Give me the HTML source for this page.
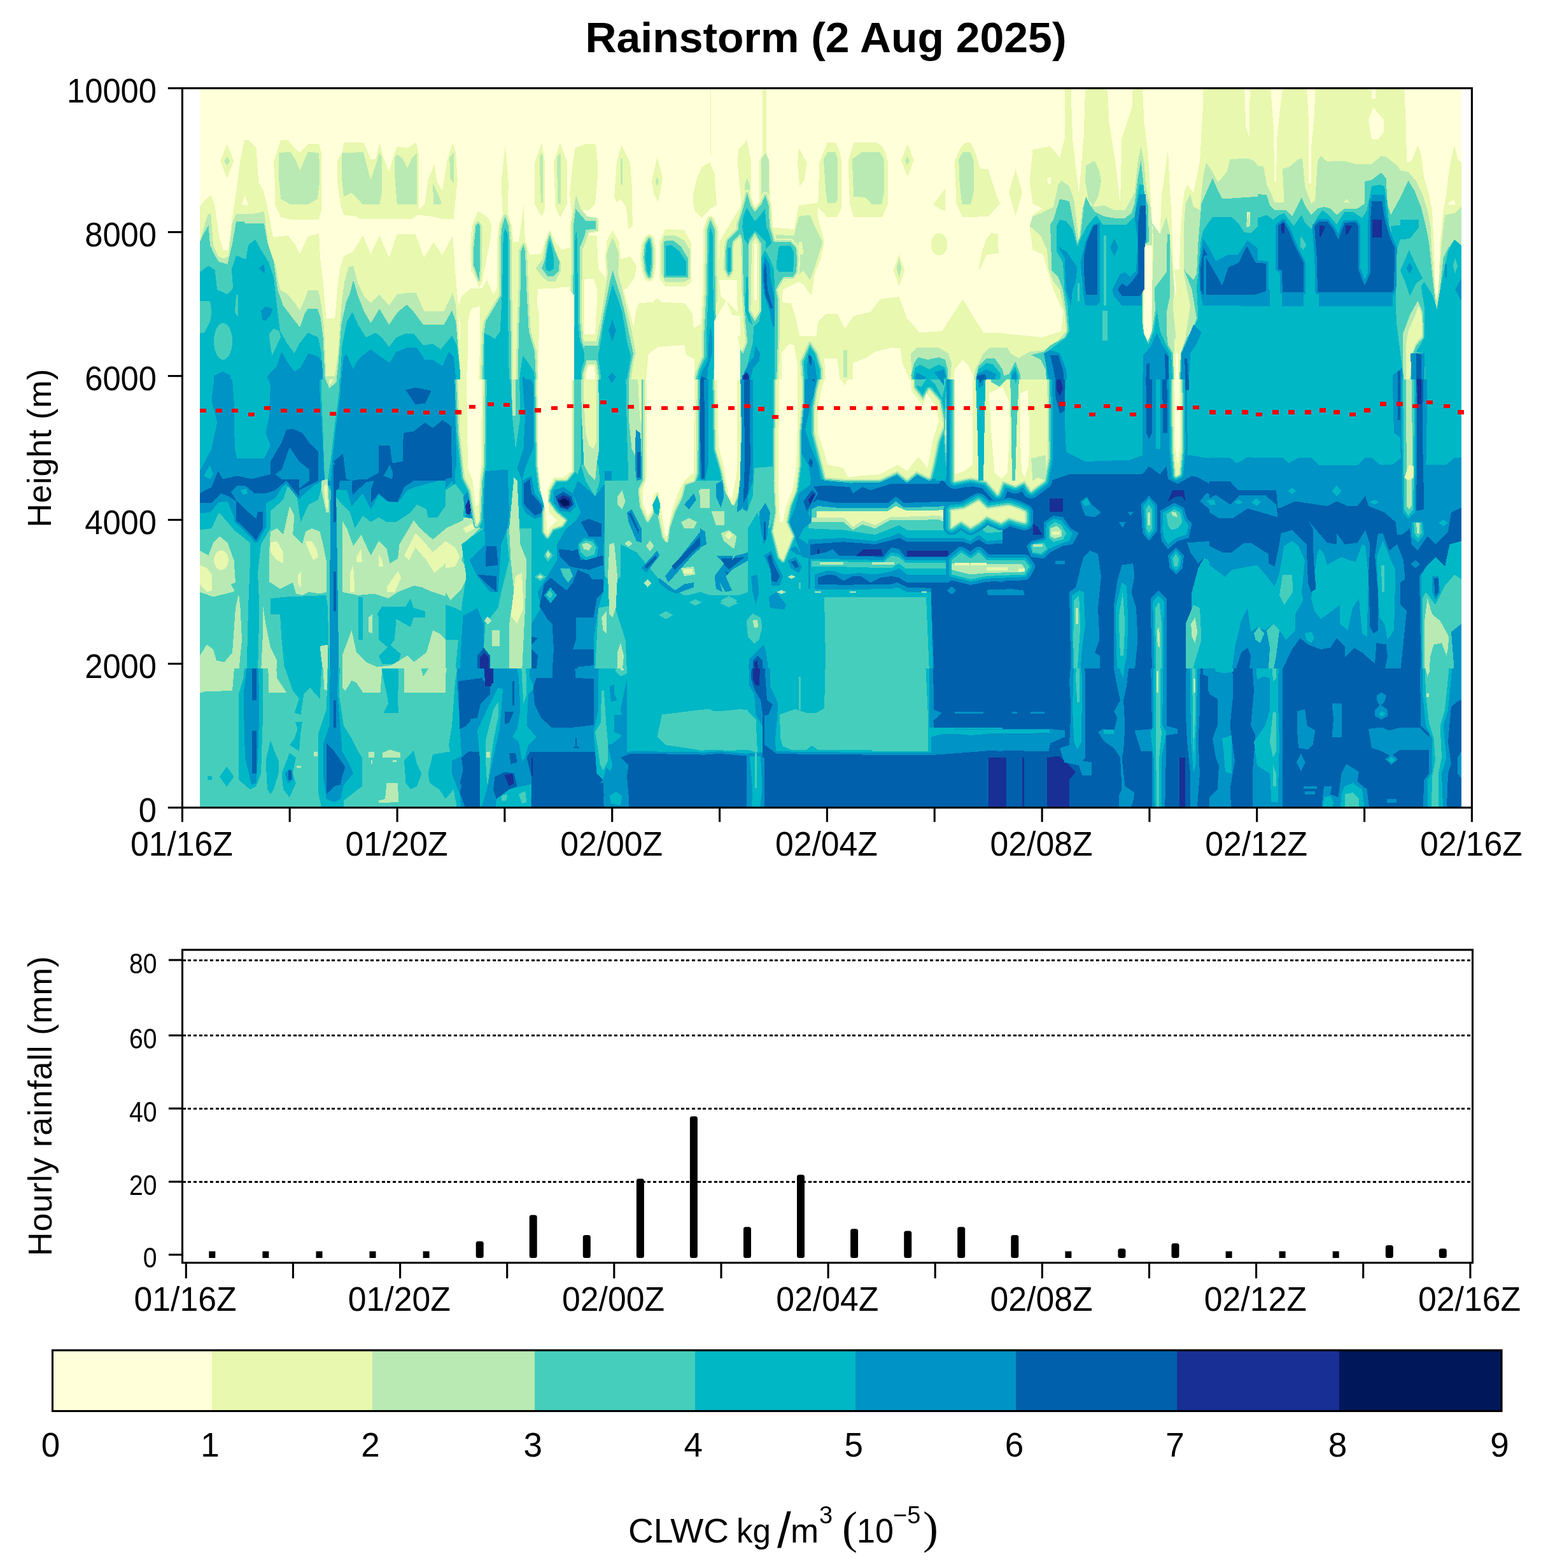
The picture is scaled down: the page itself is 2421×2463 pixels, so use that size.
<!DOCTYPE html>
<html lang="en"><head><meta charset="utf-8"><title>Rainstorm (2 Aug 2025)</title>
<style>html,body{margin:0;padding:0;background:#fff}svg{display:block}</style></head>
<body>
<svg width="2421" height="2463" viewBox="0 0 2421 2463" font-family="'Liberation Sans', sans-serif" fill="#000">
<rect width="2421" height="2463" fill="#fff"/>
<text x="1297.5" y="82" font-size="66" font-weight="bold" text-anchor="middle" textLength="756" lengthAdjust="spacingAndGlyphs">Rainstorm (2 Aug 2025)</text>
<clipPath id="hc"><rect x="314" y="138.6" width="1982" height="1130"/></clipPath>
<g clip-path="url(#hc)">
<g shape-rendering="crispEdges">
<rect x="314.0" y="138.6" width="1982.0" height="1130.0" fill="#FFFFD9"/>
<rect x="314.0" y="138.0" width="1982.0" height="1130.0" fill="#FFFFD9"/>
<polygon fill="#E8F8AF" points="346.2,253.0 356.8,226.0 367.2,253.0 356.8,280.0"/>
<polygon fill="#B9EAB3" points="352.5,253.0 356.8,245.5 361.0,253.0 356.8,260.5"/>
<polygon fill="#E8F8AF" points="430.0,253.8 436.2,235.0 441.2,220.0 452.5,220.0 462.5,232.5 471.2,240.0 483.8,226.2 501.2,226.2 505.0,240.0 505.0,330.0 501.2,344.5 455.0,344.5 441.2,341.2 432.5,322.5 431.8,285.0"/>
<polygon fill="#B9EAB3" points="437.5,240.0 456.2,238.8 463.8,250.0 471.2,267.5 478.8,250.0 483.8,238.8 501.2,240.0 502.5,282.5 498.8,312.5 483.8,321.2 456.2,321.2 441.2,312.5 438.0,280.0"/>
<polygon fill="#E8F8AF" points="530.0,252.5 537.5,240.0 540.0,223.8 571.2,223.8 582.5,250.0 590.0,250.0 596.2,223.8 602.5,247.5 611.2,270.0 617.5,247.5 623.8,230.0 640.0,232.5 653.8,223.8 657.5,240.0 657.5,330.0 655.0,337.5 647.5,344.2 566.2,344.2 560.0,340.0 540.0,337.5 535.0,322.5 530.0,285.0"/>
<polygon fill="#B9EAB3" points="537.5,240.0 571.2,239.2 576.2,260.0 582.5,282.5 590.0,260.0 596.2,239.2 600.0,247.5 600.0,302.5 596.2,321.2 570.0,321.2 552.5,302.5 540.0,308.8 537.0,280.0"/>
<polygon fill="#B9EAB3" points="620.0,247.5 623.8,242.5 632.5,248.8 640.0,263.8 647.5,247.5 655.0,240.0 655.0,321.2 623.8,321.2 620.5,280.0"/>
<polygon fill="#E8F8AF" points="657.5,330.0 667.5,320.0 672.5,282.5 682.5,257.5 686.2,285.0 695.0,300.0 702.5,252.5 711.2,223.8 716.2,240.0 718.8,282.5 715.0,320.0 712.5,344.2 693.8,344.2 680.0,340.0 655.0,337.5"/>
<polygon fill="#B9EAB3" points="680.0,287.5 686.2,300.0 692.5,315.0 692.5,321.2 681.2,321.2"/>
<polygon fill="#B9EAB3" points="706.2,247.5 712.5,240.0 712.5,287.5 707.5,280.0"/>
<polygon fill="#E8F8AF" points="313.8,325.0 320.0,316.2 331.2,306.2 337.5,322.5 341.2,350.0 345.0,375.0 351.2,392.5 358.8,392.5 363.8,350.0 371.2,300.0 377.5,252.5 383.8,220.0 390.0,220.0 402.5,232.5 406.2,286.2 413.8,300.0 420.0,325.0 425.0,350.0 428.8,372.5 452.5,370.0 462.5,382.5 471.2,398.8 483.8,371.2 501.2,367.0 503.0,405.0 507.5,442.5 512.5,500.0 526.2,500.0 530.0,455.0 533.8,422.5 540.0,402.5 555.0,395.0 570.0,370.0 582.5,398.8 596.2,370.0 611.2,405.0 623.8,367.5 652.5,367.5 666.2,405.0 681.2,380.0 695.0,401.2 711.2,370.0 715.0,425.0 720.0,480.0 722.5,532.5 722.5,1270.0 313.8,1270.0"/>
<polygon fill="#FFFFD9" points="380.0,322.0 385.0,306.2 390.0,322.0"/>
<polygon fill="#B9EAB3" points="313.8,380.0 326.2,337.5 331.2,335.0 335.0,385.0 342.5,402.5 351.2,406.2 358.8,402.5 365.0,350.0 371.2,335.5 400.0,335.5 415.0,332.0 417.5,355.0 422.5,390.0 432.5,415.0 440.0,455.0 452.5,462.5 462.5,475.0 471.2,487.5 478.8,470.0 483.8,456.2 500.0,456.2 505.0,480.0 508.8,512.5 512.5,591.2 526.2,591.2 531.2,555.0 536.2,480.0 541.2,442.5 547.5,420.0 555.0,417.5 562.5,445.0 572.5,466.2 582.5,476.2 596.2,462.5 611.2,480.0 623.8,462.5 638.8,460.0 653.8,460.0 666.2,488.8 697.5,488.8 711.2,460.0 716.2,480.0 720.0,540.0 722.5,580.0 722.5,1270.0 313.8,1270.0"/>
<polygon fill="#46CEBC" points="313.8,380.0 321.2,365.0 327.5,353.8 330.0,385.0 337.5,401.2 343.8,411.2 357.5,415.0 365.0,382.5 371.2,347.5 383.8,347.5 385.0,351.2 415.0,351.2 420.0,380.0 430.0,410.0 436.2,455.0 445.0,480.0 460.0,500.0 471.2,513.8 478.8,492.5 483.8,485.0 498.8,485.0 503.8,500.0 507.5,530.0 511.2,606.0 527.5,606.0 531.2,575.0 536.2,510.0 543.8,475.0 550.0,460.0 555.0,440.0 562.5,465.0 572.5,490.0 582.5,507.5 596.2,485.0 611.2,510.0 625.0,490.0 638.8,478.8 650.0,490.0 665.0,510.0 697.5,510.0 710.0,487.5 716.2,505.0 722.5,580.0 722.5,1270.0 313.8,1270.0"/>
<polygon fill="#00B7C6" points="313.8,427.5 327.5,417.5 337.5,423.8 341.2,455.0 357.5,462.5 366.2,452.5 363.8,422.5 371.2,401.2 386.2,407.5 390.0,385.0 401.2,376.2 410.0,392.5 422.5,412.5 430.0,435.0 435.0,480.0 440.0,520.0 450.0,537.5 462.5,555.0 470.0,540.0 483.8,522.5 500.0,530.0 505.0,555.0 507.5,606.0 533.8,606.0 537.5,542.5 545.0,505.0 553.8,490.0 562.5,510.0 575.0,530.0 590.0,522.5 600.0,530.0 611.2,545.0 622.5,530.0 637.5,523.8 650.0,523.8 665.0,542.5 680.0,540.0 692.5,548.8 710.0,527.5 717.5,542.5 722.5,580.0 722.5,1270.0 313.8,1270.0"/>
<polygon fill="#46CEBC" points="313.8,472.5 330.0,472.5 332.5,490.0 330.0,505.0 321.2,522.5 313.8,522.5"/>
<ellipse cx="350.5" cy="536.2" rx="14.5" ry="28.8" fill="#46CEBC"/>
<polygon fill="#46CEBC" points="422.5,525.0 430.0,516.2 438.8,520.0 441.2,530.0 435.0,542.5 427.5,557.5 425.0,545.0"/>
<polygon fill="#46CEBC" points="371.2,462.5 373.8,462.5 373.8,497.5 368.8,490.0"/>
<polygon fill="#0093C5" points="420.0,591.2 435.0,575.0 442.5,552.5 452.5,570.0 462.5,583.8 472.5,577.5 483.8,555.0 500.0,560.0 506.2,570.0 507.5,606.0 535.0,606.0 540.0,560.0 550.0,550.0 557.5,572.5 567.5,560.0 582.5,548.8 597.5,560.0 612.5,570.0 622.5,552.5 640.0,546.2 655.0,546.2 667.5,565.0 680.0,565.0 695.0,575.0 705.0,552.5 712.5,560.0 717.5,606.0 717.5,1270.0 420.0,1270.0"/>
<polygon fill="#0093C5" points="336.2,590.0 350.0,583.8 361.2,588.8 365.0,606.0 336.2,606.0"/>
<polygon fill="#0093C5" points="406.2,421.2 415.0,415.0 416.2,430.0"/>
<polygon fill="#0093C5" points="410.0,488.8 417.5,481.2 428.8,485.0 425.0,495.0 417.5,503.8 412.5,502.5"/>
<polygon fill="#00B7C6" points="543.8,555.0 555.0,532.5 565.0,555.0 555.0,580.0"/>
<polygon fill="#E8F8AF" points="787.5,285.0 793.8,227.5 798.8,285.0 797.5,345.0 790.0,345.0"/>
<polygon fill="#E8F8AF" points="840.0,255.0 851.2,223.8 856.2,255.0 856.2,330.0 851.2,340.0 843.8,327.5 840.0,320.0"/>
<polygon fill="#B9EAB3" points="847.5,247.5 851.2,240.0 853.0,247.5 853.0,317.5 850.0,317.5"/>
<polygon fill="#E8F8AF" points="870.0,255.0 880.0,223.8 891.2,255.0 891.2,320.0 880.0,342.5 872.5,325.0"/>
<polygon fill="#B9EAB3" points="875.0,247.5 880.0,240.0 881.2,247.5 881.2,320.0 876.2,320.0"/>
<polygon fill="#E8F8AF" points="900.0,255.0 903.8,232.5 920.0,226.2 936.2,226.2 938.8,255.0 938.8,280.0 935.0,320.0 925.0,330.0 897.5,330.0 895.0,305.0"/>
<polygon fill="#E8F8AF" points="965.0,310.0 968.8,255.0 976.2,227.5 990.0,255.0 992.5,290.0 993.8,355.0 987.5,360.0 983.8,325.0 975.0,312.5 968.8,317.5"/>
<polygon fill="#B9EAB3" points="974.5,248.8 977.5,248.8 977.5,290.0 974.5,290.0"/>
<polygon fill="#E8F8AF" points="1023.8,285.0 1032.5,246.2 1041.2,280.0 1033.8,317.5 1027.5,305.0"/>
<polygon fill="#B9EAB3" points="1030.0,285.0 1032.5,277.5 1035.0,285.0 1032.5,292.5"/>
<polygon fill="#E8F8AF" points="1088.8,305.0 1095.0,280.0 1102.5,262.5 1115.0,255.0 1122.5,272.5 1125.0,305.0 1126.2,322.5 1116.2,327.5 1102.5,342.5 1092.5,332.5 1088.8,320.0"/>
<polygon fill="#E8F8AF" points="1115.5,140.0 1117.0,140.0 1117.0,242.5 1115.5,242.5"/>
<polygon fill="#E8F8AF" points="738.8,392.5 741.2,355.0 751.2,331.5 767.5,342.5 772.5,355.0 770.0,380.0 762.5,417.5 757.5,442.5 752.5,452.8 748.8,440.0 740.0,425.0"/>
<polygon fill="#E8F8AF" points="719.0,485.0 725.0,465.0 737.5,455.0 740.0,452.5 757.5,452.5 765.0,440.0 775.0,462.5 782.5,450.0 786.5,417.5 786.5,530.0 757.5,535.0 753.8,532.5 753.5,481.2 740.0,485.0 735.0,505.0 735.0,555.0 732.5,606.0 722.5,606.0 722.5,505.0"/>
<polygon fill="#E8F8AF" points="800.0,355.0 805.0,380.0 815.0,380.0 822.5,322.5 825.0,380.0 832.5,400.0 850.0,398.8 860.0,367.5 863.8,361.2 872.5,380.0 882.5,392.5 890.0,390.0 900.0,387.5 900.0,450.0 880.0,452.5 845.0,453.8 843.8,480.0 850.0,505.0 857.5,520.0 860.0,555.0 850.0,580.0 850.0,606.0 800.0,606.0"/>
<polygon fill="#E8F8AF" points="870.0,490.0 880.0,480.0 887.5,490.0 890.0,520.0 892.5,542.5 892.5,606.0 872.5,606.0 870.0,555.0"/>
<polygon fill="#E8F8AF" points="912.5,387.5 920.0,370.0 937.5,370.0 940.0,422.5 952.5,437.5 952.5,380.0 962.5,361.2 972.5,380.0 975.0,407.5 990.0,402.5 1000.0,417.5 997.5,435.0 985.0,452.5 980.0,455.0 1000.0,530.0 1000.0,606.0 912.5,606.0"/>
<polygon fill="#FFFFD9" points="917.5,438.8 932.5,437.5 937.5,452.5 937.5,480.0 935.0,525.0 917.5,525.0"/>
<polygon fill="#FFFFD9" points="917.5,575.0 935.0,575.0 935.0,606.0 917.5,606.0"/>
<polygon fill="#E8F8AF" points="1000.0,485.0 1003.8,476.2 1025.0,475.0 1032.5,468.8 1040.0,475.0 1075.0,476.2 1082.5,485.0 1087.5,492.5 1090.0,515.0 1100.0,510.0 1107.5,505.0 1107.5,542.5 1075.0,542.5 1060.0,542.5 1052.5,547.5 1030.0,547.5 1020.0,555.0 1020.0,606.0 990.0,606.0 992.5,530.0"/>
<polygon fill="#E8F8AF" points="1076.2,542.5 1107.5,542.5 1107.5,606.0 1075.0,606.0"/>
<polygon fill="#E8F8AF" points="1045.0,360.0 1075.0,361.2 1086.2,382.5 1086.2,442.5 1077.5,450.0 1045.0,450.0 1036.2,437.5 1036.2,380.0"/>
<polygon fill="#E8F8AF" stroke="#E8F8AF" stroke-width="11.0" stroke-linejoin="round" points="793.8,340.0 798.8,355.0 800.8,380.0 801.2,455.0 802.5,520.0 802.5,606.0 757.5,606.0 760.0,525.0 763.0,505.0 775.0,485.0 786.5,465.0 786.5,380.0 788.8,355.0"/>
<polygon fill="#E8F8AF" stroke="#E8F8AF" stroke-width="11.0" stroke-linejoin="round" points="822.5,385.0 825.0,395.0 827.5,457.5 830.8,520.5 840.0,552.5 842.5,606.0 813.5,606.0 815.0,520.5 817.5,457.5 818.0,395.0"/>
<polygon fill="#E8F8AF" stroke="#E8F8AF" stroke-width="11.0" stroke-linejoin="round" points="904.5,328.2 920.5,347.2 935.5,347.2 935.5,360.0 920.5,360.8 919.0,369.2 911.2,388.2 911.2,505.0 913.8,535.0 920.5,555.0 920.5,570.0 915.0,587.5 915.0,606.0 892.5,606.0 895.0,587.5 891.5,565.0 892.5,552.5 897.5,520.0 900.0,455.0 901.5,388.2 900.8,355.0"/>
<polygon fill="#E8F8AF" stroke="#E8F8AF" stroke-width="5.0" stroke-linejoin="round" points="962.5,372.5 968.8,387.5 972.5,400.0 971.2,430.0 977.5,455.0 985.0,487.5 992.5,520.0 998.8,555.0 995.0,570.0 990.0,606.0 940.0,606.0 935.0,570.0 932.5,555.0 940.0,520.0 946.2,487.5 951.2,455.0 955.0,430.0 953.0,400.0 956.2,387.5"/>
<polygon fill="#E8F8AF" stroke="#E8F8AF" stroke-width="16.0" stroke-linejoin="round" points="1020.0,376.2 1023.0,392.5 1022.5,417.5 1020.0,433.8 1016.2,425.0 1013.8,405.0 1015.5,385.0"/>
<polygon fill="#E8F8AF" stroke="#E8F8AF" stroke-width="12.0" stroke-linejoin="round" points="1116.2,345.0 1122.5,360.0 1123.8,455.0 1125.0,520.0 1126.2,555.0 1125.0,580.0 1122.5,606.0 1090.0,606.0 1097.5,580.0 1106.2,560.0 1106.2,525.0 1110.0,455.0 1111.2,360.0"/>
<polygon fill="#B9EAB3" stroke="#B9EAB3" stroke-width="5.0" stroke-linejoin="round" points="744.0,392.5 747.5,355.0 751.2,350.0 754.2,355.0 754.2,417.5 752.5,440.2 748.8,430.0 744.5,417.5"/>
<polygon fill="#B9EAB3" stroke="#B9EAB3" stroke-width="6.0" stroke-linejoin="round" points="793.8,340.0 798.8,355.0 800.8,380.0 801.2,455.0 802.5,520.0 802.5,606.0 757.5,606.0 760.0,525.0 763.0,505.0 775.0,485.0 786.5,465.0 786.5,380.0 788.8,355.0"/>
<polygon fill="#B9EAB3" stroke="#B9EAB3" stroke-width="6.0" stroke-linejoin="round" points="822.5,385.0 825.0,395.0 827.5,457.5 830.8,520.5 840.0,552.5 842.5,606.0 813.5,606.0 815.0,520.5 817.5,457.5 818.0,395.0"/>
<polygon fill="#B9EAB3" points="863.8,364.5 872.5,392.5 881.2,412.5 881.2,425.0 872.5,441.8 860.0,441.8 850.0,432.5 841.8,421.2 852.5,407.5 857.5,380.0"/>
<polygon fill="#B9EAB3" points="905.0,306.2 912.5,327.5 922.5,340.0 937.5,342.5 938.8,362.5 925.0,365.0 920.0,380.0 915.0,392.5 913.8,505.0 901.2,505.0 898.8,392.5 897.5,355.0"/>
<polygon fill="#B9EAB3" stroke="#B9EAB3" stroke-width="6.0" stroke-linejoin="round" points="904.5,328.2 920.5,347.2 935.5,347.2 935.5,360.0 920.5,360.8 919.0,369.2 911.2,388.2 911.2,505.0 913.8,535.0 920.5,555.0 920.5,570.0 915.0,587.5 915.0,606.0 892.5,606.0 895.0,587.5 891.5,565.0 892.5,552.5 897.5,520.0 900.0,455.0 901.5,388.2 900.8,355.0"/>
<polygon fill="#B9EAB3" stroke="#B9EAB3" stroke-width="12.5" stroke-linejoin="round" points="917.5,542.5 941.2,542.5 941.2,566.2 917.5,566.2"/>
<polygon fill="#B9EAB3" points="962.5,372.5 968.8,387.5 972.5,400.0 971.2,430.0 977.5,455.0 985.0,487.5 992.5,520.0 998.8,555.0 995.0,570.0 990.0,606.0 940.0,606.0 935.0,570.0 932.5,555.0 940.0,520.0 946.2,487.5 951.2,455.0 955.0,430.0 953.0,400.0 956.2,387.5"/>
<polygon fill="#B9EAB3" stroke="#B9EAB3" stroke-width="10.0" stroke-linejoin="round" points="1020.0,376.2 1023.0,392.5 1022.5,417.5 1020.0,433.8 1016.2,425.0 1013.8,405.0 1015.5,385.0"/>
<polygon fill="#B9EAB3" points="1043.8,370.5 1060.0,369.5 1075.0,377.5 1083.8,392.5 1083.8,437.5 1076.2,442.5 1045.0,442.5 1038.8,430.0 1038.8,385.0"/>
<polygon fill="#B9EAB3" stroke="#B9EAB3" stroke-width="6.0" stroke-linejoin="round" points="1116.2,345.0 1122.5,360.0 1123.8,455.0 1125.0,520.0 1126.2,555.0 1125.0,580.0 1122.5,606.0 1090.0,606.0 1097.5,580.0 1106.2,560.0 1106.2,525.0 1110.0,455.0 1111.2,360.0"/>
<polygon fill="#46CEBC" points="744.0,392.5 747.5,355.0 751.2,350.0 754.2,355.0 754.2,417.5 752.5,440.2 748.8,430.0 744.5,417.5"/>
<polygon fill="#46CEBC" points="793.8,340.0 798.8,355.0 800.8,380.0 801.2,455.0 802.5,520.0 802.5,606.0 757.5,606.0 760.0,525.0 763.0,505.0 775.0,485.0 786.5,465.0 786.5,380.0 788.8,355.0"/>
<polygon fill="#46CEBC" points="822.5,385.0 825.0,395.0 827.5,457.5 830.8,520.5 840.0,552.5 842.5,606.0 813.5,606.0 815.0,520.5 817.5,457.5 818.0,395.0"/>
<polygon fill="#46CEBC" points="863.8,369.2 871.2,392.5 878.8,411.2 878.0,425.0 870.0,433.8 860.0,433.8 851.2,421.2 856.2,407.5 860.0,380.0"/>
<polygon fill="#46CEBC" points="904.5,328.2 920.5,347.2 935.5,347.2 935.5,360.0 920.5,360.8 919.0,369.2 911.2,388.2 911.2,505.0 913.8,535.0 920.5,555.0 920.5,570.0 915.0,587.5 915.0,606.0 892.5,606.0 895.0,587.5 891.5,565.0 892.5,552.5 897.5,520.0 900.0,455.0 901.5,388.2 900.8,355.0"/>
<polygon fill="#46CEBC" points="917.5,542.5 941.2,542.5 941.2,566.2 917.5,566.2"/>
<polygon fill="#46CEBC" points="962.5,424.5 968.8,445.0 975.0,465.0 981.2,489.0 987.5,520.0 995.0,555.0 991.2,575.0 986.2,606.0 943.0,606.0 938.8,575.0 936.2,560.0 943.8,520.0 948.8,489.0 953.8,465.0 958.8,440.0"/>
<polygon fill="#46CEBC" stroke="#46CEBC" stroke-width="5.0" stroke-linejoin="round" points="1020.0,376.2 1023.0,392.5 1022.5,417.5 1020.0,433.8 1016.2,425.0 1013.8,405.0 1015.5,385.0"/>
<polygon fill="#46CEBC" points="1043.0,378.8 1057.5,377.5 1070.0,387.5 1080.5,405.0 1080.5,435.5 1043.0,435.5"/>
<polygon fill="#46CEBC" points="1116.2,345.0 1122.5,360.0 1123.8,455.0 1125.0,520.0 1126.2,555.0 1125.0,580.0 1122.5,606.0 1090.0,606.0 1097.5,580.0 1106.2,560.0 1106.2,525.0 1110.0,455.0 1111.2,360.0"/>
<polygon fill="#00B7C6" points="793.8,358.2 797.5,367.5 797.5,455.0 798.5,520.0 800.0,606.0 760.8,606.0 760.8,523.8 770.0,527.5 777.5,532.5 782.5,525.0 785.8,520.5 789.0,457.5 790.5,380.0 791.2,367.5"/>
<polygon fill="#00B7C6" points="821.2,558.2 830.0,570.0 838.8,583.8 841.2,606.0 815.0,606.0 817.5,583.8"/>
<polygon fill="#00B7C6" points="863.8,377.2 868.0,392.5 870.5,410.0 869.5,422.5 863.8,426.0 858.8,425.0 856.8,418.0 860.0,392.5"/>
<polygon fill="#00B7C6" points="905.2,360.8 907.2,380.0 908.0,505.0 911.2,536.2 917.5,552.5 917.5,567.5 912.5,583.8 912.5,606.0 897.5,606.0 900.0,583.8 895.2,567.5 895.2,552.5 900.0,536.2 903.2,505.0 903.2,380.0"/>
<polygon fill="#00B7C6" points="962.5,446.5 970.0,467.5 977.2,489.0 981.2,512.5 985.0,536.2 991.2,560.0 987.5,580.0 983.5,606.0 945.8,606.0 942.5,580.0 939.5,560.0 943.8,536.2 947.5,512.5 952.0,489.0 957.5,465.0"/>
<polygon fill="#00B7C6" points="1020.0,376.2 1023.0,392.5 1022.5,417.5 1020.0,433.8 1016.2,425.0 1013.8,405.0 1015.5,385.0"/>
<polygon fill="#00B7C6" points="1045.5,386.2 1055.0,385.0 1067.5,395.0 1077.5,410.0 1077.5,433.2 1045.5,433.2"/>
<polygon fill="#00B7C6" points="1116.2,355.0 1119.5,367.5 1120.5,455.0 1122.5,520.0 1123.0,555.0 1120.0,606.0 1093.8,606.0 1100.0,580.0 1110.0,560.0 1110.0,525.0 1113.0,455.0 1113.8,367.5"/>
<polygon fill="#0093C5" points="821.2,591.2 831.2,600.0 833.8,606.0 820.0,606.0"/>
<polygon fill="#0093C5" points="956.0,519.0 962.0,502.0 968.0,519.0 962.0,536.0"/>
<polygon fill="#0093C5" points="955.2,592.5 961.5,585.0 967.8,592.5 961.5,600.0"/>
<polygon fill="#0093C5" points="1116.2,512.5 1118.8,530.0 1118.8,555.0 1112.5,577.5 1110.0,606.0 1096.2,606.0 1102.5,585.0 1112.5,565.0 1113.8,530.0"/>
<polygon fill="#0060AC" points="1102.5,591.2 1110.0,595.0 1112.5,606.0 1097.5,606.0"/>
<polygon fill="#E8F8AF" points="1198.2,140.0 1203.8,140.0 1203.8,325.0 1198.2,325.0"/>
<polygon fill="#E8F8AF" points="1160.0,235.0 1173.8,220.0 1180.0,255.0 1180.0,305.0 1172.5,320.0 1165.0,325.0 1158.8,255.0"/>
<polygon fill="#B9EAB3" points="1170.0,290.0 1173.8,280.0 1177.5,290.0 1177.5,320.0 1170.0,320.0"/>
<polygon fill="#E8F8AF" points="1192.5,255.0 1201.2,232.5 1208.8,255.0 1210.0,325.0 1192.5,325.0"/>
<polygon fill="#B9EAB3" points="1196.2,250.0 1202.5,240.0 1207.5,250.0 1207.5,320.0 1196.2,320.0"/>
<polygon fill="#E8F8AF" points="1255.0,232.5 1267.5,255.0 1263.8,282.5 1256.2,292.5 1253.0,255.0"/>
<polygon fill="#E8F8AF" points="1287.5,255.0 1297.5,230.0 1300.0,223.8 1312.5,223.8 1320.0,240.0 1322.0,255.0 1322.0,327.5 1315.0,341.2 1300.0,341.2 1285.0,325.0"/>
<polygon fill="#B9EAB3" points="1293.8,250.0 1300.0,239.2 1312.5,239.2 1316.2,250.0 1315.5,315.0 1312.5,318.8 1300.0,318.8 1297.5,302.5"/>
<polygon fill="#E8F8AF" points="1332.5,252.5 1341.2,223.8 1376.2,223.8 1386.2,230.0 1391.2,240.0 1395.0,255.0 1395.0,320.0 1386.2,341.2 1341.2,341.2 1335.0,320.0"/>
<polygon fill="#B9EAB3" points="1338.8,250.0 1353.8,239.2 1382.5,239.2 1388.8,250.0 1388.8,302.5 1385.0,321.2 1370.0,321.2 1360.0,310.0 1341.2,308.8"/>
<polygon fill="#E8F8AF" points="1415.8,252.0 1425.8,226.2 1435.8,252.0 1425.8,277.8"/>
<polygon fill="#B9EAB3" points="1421.5,252.5 1425.0,245.5 1428.5,252.5 1425.0,259.5"/>
<polygon fill="#E8F8AF" points="1500.0,252.5 1510.0,230.0 1517.5,223.8 1525.0,223.8 1532.5,240.0 1540.0,265.0 1552.5,266.2 1565.0,305.0 1571.2,320.0 1552.5,340.0 1512.5,341.2 1502.5,320.0"/>
<polygon fill="#B9EAB3" points="1506.2,250.0 1512.5,239.2 1525.0,239.2 1530.0,255.0 1529.5,302.5 1525.0,321.2 1511.2,321.2 1507.5,285.0"/>
<polygon fill="#E8F8AF" points="1466.2,321.2 1485.0,296.2 1485.0,331.2 1475.0,327.5"/>
<ellipse cx="1475.5" cy="383.8" rx="13.0" ry="17.5" fill="#E8F8AF"/>
<polygon fill="#E8F8AF" points="1550.0,375.0 1557.5,366.2 1567.5,367.5 1568.8,397.5 1550.0,400.0 1540.0,422.5 1537.5,422.5 1543.8,392.5"/>
<polygon fill="#E8F8AF" points="1403.5,424.5 1412.5,399.5 1421.5,424.5 1412.5,449.5"/>
<polygon fill="#B9EAB3" points="1408.5,421.2 1412.5,406.2 1416.5,421.2 1412.5,436.2"/>
<polygon fill="#E8F8AF" points="1130.0,380.0 1145.0,355.0 1160.0,330.0 1210.0,325.0 1212.5,357.5 1247.5,360.0 1255.0,322.5 1285.0,318.8 1285.0,342.5 1295.0,380.0 1290.0,405.0 1280.0,430.0 1275.0,465.0 1262.5,447.5 1255.0,442.5 1230.0,455.0 1225.0,505.0 1127.5,505.0"/>
<polygon fill="#FFFFD9" points="1130.0,440.0 1157.5,440.0 1158.8,490.0 1132.5,465.0"/>
<polygon fill="#B9EAB3" points="1212.5,368.8 1247.5,370.0 1255.0,340.0 1272.5,337.5 1280.0,355.0 1292.5,380.0 1285.0,405.0 1280.0,420.0 1272.5,440.0 1262.5,425.0 1250.0,435.0 1225.0,445.0 1212.5,445.0"/>
<polygon fill="#E8F8AF" points="1255.0,380.0 1260.0,380.0 1262.5,400.0 1256.2,400.0"/>
<polygon fill="#E8F8AF" points="1125.0,475.0 1142.5,477.5 1150.0,492.5 1162.5,495.0 1225.0,455.0 1230.0,475.0 1242.5,476.2 1250.0,497.5 1256.2,527.5 1282.5,527.5 1285.0,505.0 1297.5,492.5 1315.0,492.5 1327.5,516.2 1341.2,496.2 1367.5,490.0 1382.5,470.0 1412.5,466.2 1425.0,500.0 1445.0,522.5 1480.0,520.0 1512.5,470.0 1545.0,522.5 1576.0,522.5 1576.0,1270.0 1125.0,1270.0"/>
<polygon fill="#FFFFD9" points="1150.0,495.0 1162.5,496.2 1162.5,527.5 1150.0,527.5"/>
<polygon fill="#FFFFD9" points="1130.0,555.0 1137.5,542.5 1147.5,542.5 1152.5,570.0 1160.0,606.0 1130.0,606.0"/>
<polygon fill="#FFFFD9" points="1227.5,555.0 1240.0,540.0 1247.5,542.5 1252.5,570.0 1252.5,606.0 1227.5,606.0"/>
<polygon fill="#FFFFD9" points="1295.0,562.5 1315.0,562.5 1317.5,580.0 1320.0,606.0 1297.5,606.0"/>
<polygon fill="#FFFFD9" points="1340.0,570.0 1360.0,562.5 1375.0,552.5 1400.0,546.2 1415.0,547.5 1417.5,570.0 1427.5,592.5 1430.0,606.0 1340.0,606.0"/>
<polygon fill="#FFFFD9" points="1500.0,580.0 1512.5,565.0 1520.0,572.5 1530.0,592.5 1530.0,606.0 1497.5,606.0"/>
<polygon fill="#B9EAB3" points="1325.0,550.0 1331.2,550.0 1331.2,592.5 1325.0,592.5"/>
<polygon fill="#E8F8AF" stroke="#E8F8AF" stroke-width="9.9" stroke-linejoin="round" points="1173.6,303.2 1179.4,323.0 1186.0,332.9 1195.9,321.4 1202.5,306.5 1207.5,323.0 1209.1,356.1 1214.1,372.6 1215.7,380.0 1242.1,380.0 1250.4,389.1 1252.1,405.6 1251.2,427.1 1245.4,435.4 1230.6,435.4 1222.3,448.6 1219.0,455.2 1222.3,471.7 1222.3,521.3 1219.8,610.0 1159.6,610.0 1161.2,570.8 1174.4,537.8 1171.1,504.7 1167.8,455.2 1167.0,389.1 1166.2,375.9 1162.9,367.6 1151.3,379.2 1149.6,389.1 1149.6,425.4 1144.7,433.7 1139.7,422.1 1140.6,389.1 1143.0,377.5 1159.6,361.0 1159.6,352.8 1166.2,331.3 1169.5,319.7"/>
<polygon fill="#E8F8AF" stroke="#E8F8AF" stroke-width="12.0" stroke-linejoin="round" points="1272.5,540.0 1282.5,555.0 1290.0,580.0 1290.0,606.0 1262.5,606.0 1260.0,567.5"/>
<polygon fill="#B9EAB3" stroke="#B9EAB3" stroke-width="5.3" stroke-linejoin="round" points="1173.6,303.2 1179.4,323.0 1186.0,332.9 1195.9,321.4 1202.5,306.5 1207.5,323.0 1209.1,356.1 1214.1,372.6 1215.7,380.0 1242.1,380.0 1250.4,389.1 1252.1,405.6 1251.2,427.1 1245.4,435.4 1230.6,435.4 1222.3,448.6 1219.0,455.2 1222.3,471.7 1222.3,521.3 1219.8,610.0 1159.6,610.0 1161.2,570.8 1174.4,537.8 1171.1,504.7 1167.8,455.2 1167.0,389.1 1166.2,375.9 1162.9,367.6 1151.3,379.2 1149.6,389.1 1149.6,425.4 1144.7,433.7 1139.7,422.1 1140.6,389.1 1143.0,377.5 1159.6,361.0 1159.6,352.8 1166.2,331.3 1169.5,319.7"/>
<polygon fill="#B9EAB3" stroke="#B9EAB3" stroke-width="6.0" stroke-linejoin="round" points="1272.5,540.0 1282.5,555.0 1290.0,580.0 1290.0,606.0 1262.5,606.0 1260.0,567.5"/>
<polygon fill="#B9EAB3" points="1431.2,555.0 1440.0,546.2 1475.0,546.2 1490.0,555.0 1495.0,570.0 1492.5,606.0 1432.5,606.0"/>
<polygon fill="#46CEBC" points="1173.6,303.2 1179.4,323.0 1186.0,332.9 1195.9,321.4 1202.5,306.5 1207.5,323.0 1209.1,356.1 1214.1,372.6 1215.7,380.0 1242.1,380.0 1250.4,389.1 1252.1,405.6 1251.2,427.1 1245.4,435.4 1230.6,435.4 1222.3,448.6 1219.0,455.2 1222.3,471.7 1222.3,521.3 1219.8,610.0 1159.6,610.0 1161.2,570.8 1174.4,537.8 1171.1,504.7 1167.8,455.2 1167.0,389.1 1166.2,375.9 1162.9,367.6 1151.3,379.2 1149.6,389.1 1149.6,425.4 1144.7,433.7 1139.7,422.1 1140.6,389.1 1143.0,377.5 1159.6,361.0 1159.6,352.8 1166.2,331.3 1169.5,319.7"/>
<polygon fill="#46CEBC" points="1151.3,557.6 1159.6,541.1 1169.5,560.9 1176.1,557.6 1176.1,570.8 1166.2,570.8 1159.6,557.6 1154.6,562.5"/>
<polygon fill="#46CEBC" points="1272.5,540.0 1282.5,555.0 1290.0,580.0 1290.0,606.0 1262.5,606.0 1260.0,567.5"/>
<polygon fill="#46CEBC" points="1436.2,570.0 1442.5,561.2 1457.5,565.0 1475.0,561.2 1485.0,565.0 1488.8,580.0 1490.0,606.0 1435.0,606.0 1431.2,590.0"/>
<polygon fill="#00B7C6" points="1173.6,326.3 1181.0,339.6 1186.0,347.8 1195.9,336.3 1201.7,328.0 1204.2,356.1 1209.1,369.3 1212.4,382.5 1202.5,392.4 1202.5,379.2 1195.9,372.6 1186.0,362.7 1176.1,375.9 1176.1,385.8 1169.5,375.9 1166.2,356.1 1167.8,339.6"/>
<polygon fill="#00B7C6" points="1201.7,392.4 1209.1,405.6 1215.7,422.1 1217.4,455.2 1217.4,521.3 1217.4,610.0 1166.2,610.0 1172.8,579.1 1182.7,537.8 1184.3,513.0 1192.6,504.7 1195.9,488.2 1192.6,455.2 1192.6,422.1 1195.9,405.6"/>
<polygon fill="#00B7C6" points="1171.9,435.4 1175.2,435.4 1176.1,488.2 1182.7,511.3 1176.1,504.7 1171.1,488.2"/>
<polygon fill="#00B7C6" points="1224.0,386.6 1242.1,385.8 1247.1,395.7 1246.3,427.1 1224.0,427.1 1219.8,422.1 1220.7,405.6"/>
<polygon fill="#00B7C6" points="1143.0,389.1 1148.0,389.1 1148.0,427.1 1143.0,427.1"/>
<polygon fill="#00B7C6" points="1272.5,545.0 1280.0,555.0 1287.5,580.0 1287.5,606.0 1265.0,606.0 1262.5,570.0"/>
<polygon fill="#00B7C6" points="1437.5,577.5 1445.0,572.5 1460.0,580.0 1475.0,572.5 1485.0,577.5 1487.5,592.5 1485.0,606.0 1437.5,606.0 1435.0,592.5"/>
<polygon fill="#0093C5" points="1201.7,402.3 1209.1,415.5 1210.8,438.7 1217.4,471.7 1217.4,513.0 1214.1,513.0 1209.1,488.2 1200.8,463.4 1197.5,438.7 1197.5,422.1"/>
<polygon fill="#0093C5" points="1186.8,542.7 1194.2,554.3 1192.6,567.5 1182.7,579.1 1176.1,610.0 1166.2,610.0 1169.5,584.0 1176.1,570.8 1184.3,560.9"/>
<polygon fill="#0093C5" points="1271.2,555.0 1280.0,570.0 1285.0,606.0 1270.0,606.0 1267.5,575.0"/>
<polygon fill="#0093C5" points="1440.0,585.0 1455.0,592.5 1447.5,600.0 1437.5,595.0"/>
<polygon fill="#0093C5" points="1467.5,585.0 1482.5,580.0 1486.2,592.5 1477.5,597.5"/>
<polygon fill="#0060AC" points="1200.8,412.2 1204.2,422.1 1205.8,455.2 1214.1,483.3 1210.8,484.9 1202.5,463.4 1200.0,438.7"/>
<polygon fill="#0060AC" stroke="#0060AC" stroke-width="2.6" stroke-linejoin="round" points="1172.8,585.7 1176.1,590.6 1176.1,610.0 1166.2,610.0 1167.8,590.6"/>
<polygon fill="#0060AC" points="1270.0,557.5 1275.0,560.0 1275.0,575.0 1271.2,570.0"/>
<polygon fill="#183096" points="1172.8,585.7 1176.1,590.6 1176.1,610.0 1166.2,610.0 1167.8,590.6"/>
<polygon fill="#B9EAB3" points="1186.0,366.0 1195.9,382.5 1195.9,488.2 1186.0,504.7 1176.1,488.2 1176.1,382.5"/>
<polygon fill="#E8F8AF" points="1181.0,382.5 1186.8,372.6 1193.4,384.2 1193.4,486.6 1186.0,499.8 1179.4,486.6"/>
<polygon fill="#FFFFD9" points="1185.2,382.5 1188.5,382.5 1188.5,471.7 1185.2,471.7"/>
<polygon fill="#E8F8AF" points="1585.0,302.5 1595.5,266.2 1606.0,302.5 1595.5,338.8"/>
<polygon fill="#E8F8AF" points="1576.0,523.8 1637.5,530.0 1660.0,522.5 1667.5,520.0 1670.0,490.0 1655.0,455.0 1645.0,422.5 1638.8,400.0 1622.5,392.5 1617.5,355.0 1622.5,337.5 1637.5,327.5 1622.5,320.0 1617.5,285.0 1622.5,235.0 1650.0,230.0 1665.0,247.5 1672.5,217.5 1672.5,140.0 1682.5,140.0 1685.0,217.5 1695.0,305.0 1702.5,217.5 1705.0,140.0 1740.0,140.0 1742.5,192.5 1752.5,255.0 1760.0,320.0 1762.5,217.5 1778.8,167.5 1778.8,140.0 1795.0,140.0 1797.5,192.5 1803.8,242.5 1807.5,305.0 1810.0,355.0 1812.5,380.0 1822.5,367.5 1825.0,305.0 1827.5,290.0 1835.0,235.0 1837.5,290.0 1840.0,330.0 1845.0,455.0 1850.0,472.5 1852.5,430.0 1855.0,355.0 1860.0,305.0 1865.0,290.0 1875.0,302.5 1885.0,255.0 1890.0,165.0 1890.0,140.0 1955.0,140.0 1957.5,200.0 1962.5,215.0 1963.8,140.0 1976.0,140.0 1976.0,1270.0 1576.0,1270.0"/>
<polygon fill="#FFFFD9" points="1645.0,280.0 1651.2,277.5 1651.2,290.0 1646.2,287.5"/>
<polygon fill="#FFFFD9" points="1796.2,386.2 1810.0,386.2 1810.0,455.0 1808.8,525.0 1802.5,535.0 1797.5,520.0"/>
<polygon fill="#FFFFD9" points="1846.2,552.5 1851.2,552.5 1851.2,606.0 1846.2,606.0"/>
<polygon fill="#FFFFD9" points="1874.5,345.0 1878.8,345.0 1878.8,367.5 1874.5,367.5"/>
<polygon fill="#B9EAB3" points="1706.2,260.0 1720.0,252.5 1727.5,270.0 1730.0,285.0 1725.0,310.0 1717.5,322.5 1710.0,315.0 1705.0,285.0"/>
<polygon fill="#B9EAB3" points="1927.5,270.0 1932.5,250.0 1960.0,248.8 1970.0,252.5 1976.0,260.0 1976.0,312.5 1932.5,312.5 1925.0,305.0 1915.0,285.0"/>
<polygon fill="#B9EAB3" points="1617.5,355.0 1622.5,340.0 1635.0,335.0 1655.0,325.0 1662.5,290.0 1667.5,283.8 1680.0,292.5 1687.5,315.0 1695.0,380.0 1700.0,327.5 1706.2,308.8 1712.5,320.0 1720.0,325.0 1735.0,322.5 1750.0,330.0 1767.5,330.0 1782.5,302.5 1787.5,255.0 1792.5,230.0 1797.5,255.0 1800.0,292.5 1807.5,325.0 1810.0,350.0 1810.0,385.0 1796.2,385.0 1795.0,606.0 1640.0,606.0 1635.0,570.0 1612.5,560.0 1617.5,552.5 1640.0,550.0 1662.5,535.0 1675.0,520.0 1672.5,490.0 1665.0,455.0 1655.0,442.5 1647.5,422.5 1645.0,392.5 1635.0,370.0"/>
<polygon fill="#B9EAB3" points="1810.0,350.0 1822.5,367.5 1832.5,340.0 1837.5,365.0 1845.0,455.0 1842.5,480.0 1847.5,530.0 1845.0,555.0 1810.0,555.0 1810.0,455.0 1812.5,380.0"/>
<polygon fill="#B9EAB3" points="1860.0,355.0 1862.5,320.0 1870.0,305.0 1875.0,325.0 1885.0,330.0 1890.0,280.0 1895.0,255.0 1905.0,270.0 1912.5,285.0 1976.0,280.0 1976.0,606.0 1852.5,606.0 1855.0,555.0 1862.5,530.0 1870.0,480.0 1860.0,430.0"/>
<polygon fill="#B9EAB3" points="1545.0,555.0 1555.0,546.2 1582.5,546.2 1587.5,555.0 1600.0,562.5 1617.5,552.5 1635.0,570.0 1640.0,606.0 1527.5,606.0 1532.5,580.0"/>
<polygon fill="#46CEBC" points="1650.0,352.5 1655.0,345.0 1665.0,312.5 1680.0,316.2 1687.5,355.0 1692.5,382.5 1697.5,370.0 1702.5,325.0 1706.2,308.8 1712.5,322.5 1720.0,332.5 1735.0,340.0 1750.0,342.5 1767.5,342.5 1777.5,335.0 1782.5,320.0 1787.5,280.0 1792.5,252.5 1796.2,285.0 1797.5,305.0 1803.8,322.5 1805.0,380.0 1796.2,385.0 1795.0,505.0 1797.5,525.0 1803.8,537.5 1803.8,606.0 1645.0,606.0 1642.5,580.0 1635.0,565.0 1620.0,557.5 1640.0,552.5 1650.0,542.5 1672.5,530.0 1677.5,520.0 1675.0,490.0 1670.0,455.0 1662.5,435.0 1652.5,425.0"/>
<polygon fill="#46CEBC" points="1813.8,452.5 1832.5,427.5 1833.8,367.5 1837.5,367.5 1837.5,467.5 1832.5,492.5 1832.5,520.0 1835.0,542.5 1810.0,542.5 1812.5,520.0 1815.0,490.0"/>
<polygon fill="#46CEBC" stroke="#46CEBC" stroke-width="5.0" stroke-linejoin="round" points="1817.5,487.5 1822.5,520.0 1832.5,542.5 1840.0,555.0 1842.5,606.0 1795.0,606.0 1795.0,560.0 1805.0,540.0 1812.5,520.0"/>
<polygon fill="#46CEBC" points="1882.5,380.0 1887.5,320.0 1895.0,302.5 1905.0,280.0 1915.0,302.5 1920.0,312.5 1976.0,308.8 1976.0,606.0 1852.5,606.0 1855.0,555.0 1865.0,530.0 1875.0,515.0 1880.0,500.0 1872.5,455.0 1860.0,422.5 1865.0,430.0 1875.0,440.0 1880.0,430.0"/>
<polygon fill="#46CEBC" points="1537.5,575.0 1550.0,562.5 1562.5,562.5 1575.0,580.0 1577.5,590.0 1585.0,587.5 1595.0,567.5 1602.5,587.5 1605.0,606.0 1530.0,606.0"/>
<polygon fill="#00B7C6" points="1660.0,355.0 1665.0,345.0 1675.0,347.5 1685.0,360.0 1692.5,387.5 1700.0,370.0 1707.5,355.0 1722.5,337.5 1732.5,352.5 1770.0,352.5 1782.5,340.0 1785.0,320.0 1790.0,290.0 1796.2,290.0 1800.0,320.0 1801.2,380.0 1795.0,385.0 1793.8,505.0 1796.2,522.5 1803.8,540.0 1803.8,606.0 1645.0,606.0 1642.5,555.0 1655.0,545.0 1675.0,530.0 1680.0,520.0 1677.5,480.0 1672.5,455.0 1670.0,412.5 1660.0,395.0"/>
<polygon fill="#00B7C6" points="1817.5,487.5 1822.5,520.0 1832.5,542.5 1840.0,555.0 1842.5,606.0 1795.0,606.0 1795.0,560.0 1805.0,540.0 1812.5,520.0"/>
<polygon fill="#00B7C6" points="1890.0,362.5 1900.0,347.5 1905.0,341.2 1935.0,341.2 1945.0,350.0 1955.0,365.0 1965.0,366.2 1976.0,355.0 1976.0,606.0 1855.0,606.0 1857.5,555.0 1870.0,525.0 1882.5,500.0 1880.0,450.0 1882.5,430.0 1886.2,380.0"/>
<polygon fill="#00B7C6" points="1537.5,580.0 1550.0,570.0 1560.0,572.5 1572.5,587.5 1570.0,606.0 1532.5,606.0"/>
<polygon fill="#00B7C6" points="1587.5,587.5 1595.0,575.0 1600.0,590.0 1600.0,606.0 1587.5,606.0"/>
<polygon fill="#0093C5" points="1662.5,387.5 1675.0,395.0 1692.5,420.0 1690.0,442.5 1685.0,455.0 1682.5,480.0 1675.0,455.0 1672.5,405.0"/>
<polygon fill="#0093C5" points="1697.5,412.5 1705.0,380.0 1717.5,352.5 1727.5,350.0 1727.5,475.0 1722.5,480.0 1705.0,480.0 1702.5,465.0"/>
<polygon fill="#0093C5" points="1782.5,340.0 1790.0,305.0 1800.0,305.0 1801.2,380.0 1795.0,385.0 1793.8,480.0 1762.5,480.0 1750.0,465.0 1747.5,455.0 1760.0,430.0 1767.5,427.5 1775.0,435.0 1785.0,425.0 1787.5,380.0"/>
<polygon fill="#0093C5" points="1744.2,388.8 1750.5,375.0 1756.8,388.8 1750.5,402.5"/>
<polygon fill="#0093C5" points="1640.0,555.0 1650.0,550.0 1665.0,555.0 1675.0,580.0 1677.5,606.0 1650.0,606.0"/>
<polygon fill="#0093C5" points="1817.5,522.5 1825.0,540.0 1835.0,555.0 1837.5,606.0 1795.0,606.0 1796.2,557.5 1807.5,545.0"/>
<polygon fill="#0093C5" points="1890.0,375.0 1900.0,390.0 1910.0,410.0 1930.0,400.0 1945.0,400.0 1960.0,377.5 1976.0,390.0 1976.0,480.0 1890.0,480.0 1885.0,455.0 1883.8,420.0"/>
<polygon fill="#0093C5" points="1875.0,510.0 1887.5,522.5 1880.0,540.0 1870.0,555.0 1867.5,606.0 1855.0,606.0 1856.2,555.0 1865.0,535.0"/>
<polygon fill="#0093C5" points="1535.0,587.5 1550.0,580.0 1565.0,587.5 1562.5,597.5 1550.0,606.0 1532.5,606.0"/>
<polygon fill="#0093C5" points="1590.0,590.0 1595.0,582.5 1597.5,592.5 1596.2,606.0 1591.2,606.0"/>
<polygon fill="#0060AC" points="1702.5,405.0 1707.5,380.0 1717.5,355.0 1723.8,352.5 1723.8,462.5 1706.2,462.5 1703.8,442.5"/>
<polygon fill="#0060AC" points="1787.5,355.0 1791.2,322.5 1800.0,322.5 1798.8,452.5 1791.2,465.0 1762.5,465.0 1756.2,455.0 1762.5,445.0 1770.0,450.0 1780.0,440.0 1787.5,430.0"/>
<polygon fill="#0060AC" points="1650.0,557.5 1662.5,557.5 1670.0,580.0 1672.5,606.0 1660.0,606.0 1655.0,580.0"/>
<polygon fill="#0060AC" points="1801.2,572.5 1806.2,570.0 1806.2,606.0 1800.0,606.0"/>
<polygon fill="#0060AC" points="1830.0,555.0 1836.2,560.0 1836.2,606.0 1831.2,606.0"/>
<polygon fill="#0060AC" points="1891.2,388.8 1900.0,407.5 1910.0,430.0 1920.0,450.0 1930.0,422.5 1947.5,412.5 1960.0,385.0 1970.0,405.0 1976.0,412.5 1976.0,462.5 1890.0,462.5 1886.2,455.0 1886.2,420.0"/>
<polygon fill="#0060AC" points="1861.2,562.5 1865.0,562.5 1867.5,606.0 1862.5,606.0"/>
<polygon fill="#0060AC" points="1535.0,590.0 1547.5,587.5 1550.0,595.0 1542.5,606.0 1535.0,606.0"/>
<polygon fill="#46CEBC" points="1733.8,370.0 1737.5,370.0 1737.5,480.0 1733.8,480.0"/>
<polygon fill="#46CEBC" points="1732.0,487.5 1739.5,487.5 1739.5,535.0 1732.0,535.0"/>
<polygon fill="#46CEBC" points="1693.0,445.0 1696.0,445.0 1696.0,472.5 1693.0,472.5"/>
<polygon fill="#FFFFD9" points="1797.5,387.5 1808.8,387.5 1808.8,520.0 1803.8,532.5 1798.8,520.0"/>
<polygon fill="#E8F8AF" points="1845.0,422.5 1852.5,422.5 1852.5,472.5 1848.8,472.5"/>
<polygon fill="#E8F8AF" points="1845.0,530.0 1852.5,542.5 1852.5,606.0 1845.0,606.0"/>
<polygon fill="#FFFFD9" points="1847.0,555.0 1850.5,555.0 1850.5,606.0 1847.0,606.0"/>
<polygon fill="#E8F8AF" points="1958.8,332.5 1963.8,332.5 1963.8,355.0 1958.8,355.0"/>
<polygon fill="#E8F8AF" points="1976.0,140.0 2295.8,140.0 2295.8,606.0 1976.0,606.0"/>
<polygon fill="#FFFFD9" points="1996.2,140.0 2015.0,140.0 2010.0,180.0 2006.2,217.5 2005.0,285.0 2002.0,285.0 2001.2,205.0"/>
<polygon fill="#FFFFD9" points="2053.0,140.0 2066.2,140.0 2065.0,180.0 2060.0,230.0 2060.0,287.5 2056.2,287.5 2056.2,192.5"/>
<polygon fill="#FFFFD9" points="2155.0,140.0 2161.2,140.0 2161.2,155.0 2155.0,155.0"/>
<polygon fill="#FFFFD9" points="2150.0,187.5 2157.5,168.8 2173.8,187.5 2173.8,207.5 2165.0,218.8 2155.0,218.8 2152.5,205.0"/>
<polygon fill="#FFFFD9" points="2206.2,140.0 2295.8,140.0 2295.8,255.0 2290.0,250.0 2285.0,227.5 2280.0,247.5 2275.0,280.0 2272.5,305.0 2267.5,330.0 2262.5,380.0 2260.0,455.0 2257.5,467.5 2255.0,455.0 2252.5,380.0 2250.0,330.0 2245.0,305.0 2237.5,280.0 2232.5,242.5 2227.5,227.5 2220.0,247.5 2215.0,255.0 2210.0,255.0 2208.8,192.5"/>
<polygon fill="#FFFFD9" points="2272.5,321.2 2285.0,312.5 2286.2,322.5"/>
<polygon fill="#B9EAB3" points="1976.0,261.2 1985.0,261.2 1990.0,290.0 1997.5,305.0 2002.5,317.5 2017.5,317.5 2015.0,265.0 2025.0,262.5 2040.0,250.0 2046.2,248.8 2050.0,292.5 2060.0,320.0 2066.2,315.0 2070.0,252.5 2075.0,245.0 2085.0,253.8 2110.0,252.5 2130.0,257.5 2155.0,257.5 2170.0,245.0 2177.5,246.2 2195.0,260.0 2200.0,267.5 2212.5,270.0 2225.0,285.0 2235.0,305.0 2242.5,330.0 2247.5,355.0 2250.0,405.0 2255.0,467.5 2257.5,472.5 2260.0,455.0 2265.0,380.0 2270.0,337.5 2285.0,335.0 2295.8,325.0 2295.8,1270.0 1976.0,1270.0"/>
<polygon fill="#46CEBC" points="1976.0,305.0 1990.0,306.2 1995.0,322.5 2002.5,330.0 2020.0,330.0 2030.0,340.0 2037.5,325.0 2045.0,310.0 2050.0,322.5 2060.0,337.5 2070.0,327.5 2080.0,325.0 2090.0,327.5 2100.0,337.5 2112.5,327.5 2132.5,327.5 2143.8,320.0 2143.8,285.0 2155.0,282.5 2170.0,271.2 2177.5,280.0 2180.0,322.5 2185.0,337.5 2200.0,310.0 2212.5,283.8 2222.5,300.0 2232.5,325.0 2240.0,355.0 2245.0,380.0 2250.0,430.0 2255.0,475.0 2257.5,485.0 2262.5,455.0 2267.5,405.0 2275.0,390.0 2285.0,376.2 2295.8,385.0 2295.8,1270.0 1976.0,1270.0"/>
<polygon fill="#00B7C6" points="1976.0,342.5 1990.0,337.5 2000.0,345.0 2010.0,337.5 2017.5,335.0 2025.0,345.0 2032.5,355.0 2045.0,337.5 2050.0,350.0 2060.0,360.0 2070.0,340.0 2077.5,330.0 2087.5,337.5 2100.0,352.5 2112.5,332.5 2125.0,332.5 2140.0,342.5 2147.5,330.0 2155.0,292.5 2167.5,290.0 2175.0,292.5 2180.0,322.5 2182.5,355.0 2190.0,380.0 2192.5,455.0 2193.8,505.0 2200.0,555.0 2205.0,592.5 2207.5,606.0 2207.5,1270.0 1976.0,1270.0"/>
<polygon fill="#00B7C6" points="2295.8,386.2 2285.0,376.2 2275.0,395.0 2267.5,430.0 2262.5,455.0 2257.5,485.0 2250.0,462.5 2237.5,442.5 2232.5,450.0 2237.5,480.0 2237.5,530.0 2232.5,540.0 2225.0,552.5 2237.5,555.0 2240.0,607.5 2295.8,607.5"/>
<polygon fill="#00B7C6" points="2200.0,425.0 2213.8,392.5 2225.0,417.5 2235.0,437.5 2225.0,445.0 2215.0,465.0 2207.5,442.5"/>
<polygon fill="#00B7C6" points="2185.0,355.0 2200.0,353.8 2200.0,345.0 2228.8,345.0 2228.8,357.5 2215.0,375.0 2200.0,376.2 2195.0,390.0 2187.5,380.0"/>
<polygon fill="#B9EAB3" points="2203.8,525.0 2215.0,495.0 2227.5,472.5 2235.0,490.0 2236.2,530.0 2225.0,542.5 2220.0,555.0 2215.0,607.5 2205.0,607.5 2203.8,555.0"/>
<polygon fill="#E8F8AF" points="2212.5,520.0 2222.5,497.5 2228.8,480.0 2233.8,497.5 2233.8,527.5 2223.8,540.0 2218.8,555.0 2213.8,607.5 2208.8,607.5 2208.8,542.5"/>
<polygon fill="#0093C5" points="2216.2,555.0 2237.5,555.0 2238.8,607.5 2217.5,607.5"/>
<polygon fill="#0060AC" points="2225.0,555.0 2232.5,557.5 2233.8,607.5 2225.0,607.5"/>
<polygon fill="#183096" points="2226.2,595.0 2231.2,595.0 2231.2,607.5 2226.2,607.5"/>
<polygon fill="#0093C5" points="2187.5,590.0 2202.5,577.5 2203.8,607.5 2187.5,607.5"/>
<polygon fill="#0060AC" points="2196.2,582.5 2200.0,582.5 2200.0,607.5 2196.2,607.5"/>
<polygon fill="#0093C5" points="2209.5,421.2 2214.5,412.5 2219.5,421.2 2214.5,430.0"/>
<polygon fill="#0093C5" points="2270.0,415.0 2273.0,415.0 2273.0,436.2 2270.0,436.2"/>
<polygon fill="#0093C5" points="2286.2,455.0 2295.8,437.5 2295.8,472.5"/>
<polygon fill="#46CEBC" points="2282.8,417.5 2286.2,405.0 2289.8,417.5 2286.2,430.0"/>
<polygon fill="#0093C5" points="1950.0,455.0 1994.5,455.0 1994.5,481.2 1950.0,481.2"/>
<polygon fill="#0093C5" points="2013.8,455.0 2047.5,455.0 2047.5,481.2 2013.8,481.2"/>
<polygon fill="#0093C5" points="2072.0,455.0 2187.5,455.0 2187.5,481.2 2072.0,481.2"/>
<polygon fill="#0093C5" points="2151.2,355.0 2155.0,306.2 2175.0,306.2 2178.0,342.5 2181.2,355.0"/>
<polygon fill="#0093C5" stroke="#0093C5" stroke-width="8.0" stroke-linejoin="round" points="1895.0,405.0 1910.0,430.0 1920.0,448.8 1930.0,420.0 1946.2,412.5 1958.8,386.2 1972.5,412.5 1988.8,413.8 1988.8,457.5 1972.5,462.5 1895.0,462.5"/>
<polygon fill="#0093C5" stroke="#0093C5" stroke-width="7.0" stroke-linejoin="round" points="2007.5,355.0 2016.2,347.5 2025.0,362.5 2035.0,387.5 2047.5,412.5 2047.5,458.8 2015.0,458.8 2013.8,425.0 2007.5,422.5"/>
<polygon fill="#0093C5" stroke="#0093C5" stroke-width="7.0" stroke-linejoin="round" points="2065.0,355.0 2072.5,347.5 2085.0,347.5 2095.0,360.0 2102.5,376.2 2112.5,350.0 2130.0,348.8 2133.8,355.0 2133.8,422.5 2143.8,448.8 2152.5,430.0 2152.5,355.0 2155.0,316.2 2171.2,316.2 2175.0,342.5 2182.5,370.0 2191.2,390.0 2190.0,452.5 2187.5,458.8 2070.0,458.8 2068.8,405.0"/>
<polygon fill="#0060AC" points="1895.0,405.0 1910.0,430.0 1920.0,448.8 1930.0,420.0 1946.2,412.5 1958.8,386.2 1972.5,412.5 1988.8,413.8 1988.8,457.5 1972.5,462.5 1895.0,462.5"/>
<polygon fill="#0060AC" points="2007.5,355.0 2016.2,347.5 2025.0,362.5 2035.0,387.5 2047.5,412.5 2047.5,458.8 2015.0,458.8 2013.8,425.0 2007.5,422.5"/>
<polygon fill="#0060AC" points="2065.0,355.0 2072.5,347.5 2085.0,347.5 2095.0,360.0 2102.5,376.2 2112.5,350.0 2130.0,348.8 2133.8,355.0 2133.8,422.5 2143.8,448.8 2152.5,430.0 2152.5,355.0 2155.0,316.2 2171.2,316.2 2175.0,342.5 2182.5,370.0 2191.2,390.0 2190.0,452.5 2187.5,458.8 2070.0,458.8 2068.8,405.0"/>
<polygon fill="#183096" points="2012.5,352.5 2017.5,350.0 2017.5,366.2 2013.8,366.2"/>
<polygon fill="#183096" points="2072.5,353.8 2082.5,355.0 2075.0,372.5 2072.5,370.0"/>
<polygon fill="#183096" points="2113.8,353.8 2123.8,355.0 2117.5,367.5 2113.8,368.8"/>
<polygon fill="#183096" points="2155.5,344.5 2171.2,344.5 2171.2,372.5 2155.5,372.5"/>
<polygon fill="#46CEBC" points="2043.8,370.0 2052.5,385.0 2047.5,392.5 2042.5,387.5"/>
<polygon fill="#B9EAB3" points="1957.5,352.5 1962.5,332.5 1963.8,355.0 1958.8,357.5"/>
<polygon fill="#E8F8AF" points="2111.2,317.5 2116.2,312.5 2120.0,318.8"/>
<clipPath id="r2"><rect x="0" y="596" width="2421" height="800"/></clipPath><g clip-path="url(#r2)">
<polygon fill="#0093C5" points="313.8,550.0 715.0,550.0 715.0,1270.0 313.8,1270.0"/>
<polygon fill="#00B7C6" points="313.8,550.0 342.5,550.0 336.2,595.0 332.5,630.0 341.2,662.5 332.5,705.0 313.8,740.0"/>
<polygon fill="#00B7C6" points="365.0,595.0 420.0,590.0 425.0,605.0 422.5,655.0 417.5,680.0 425.0,700.0 415.0,720.0 372.5,720.0 368.8,705.0 367.5,630.0"/>
<polygon fill="#00B7C6" points="313.8,806.2 330.0,805.0 343.8,788.8 357.5,787.5 370.0,817.5 385.0,835.0 402.5,852.5 410.0,832.5 417.5,830.0 417.5,790.0 432.5,782.5 450.0,755.0 460.0,770.0 470.0,782.5 485.0,770.0 500.0,755.0 535.0,770.0 545.0,770.0 552.5,795.0 570.0,775.0 582.5,800.0 595.0,777.5 607.5,787.5 625.0,790.0 640.0,770.0 652.5,765.0 690.0,755.0 710.0,755.0 715.0,767.5 715.0,1270.0 313.8,1270.0"/>
<polygon fill="#46CEBC" points="313.8,832.5 332.5,830.0 343.8,805.0 357.5,820.0 367.5,832.5 392.5,852.5 392.5,892.5 405.0,900.0 410.0,855.0 425.0,830.0 425.0,802.5 445.0,785.0 455.0,755.0 465.0,770.0 472.5,820.0 485.0,792.5 500.0,785.0 507.5,755.0 537.5,792.5 550.0,805.0 557.5,830.0 570.0,810.0 582.5,820.0 595.0,812.5 607.5,820.0 622.5,820.0 645.0,805.0 655.0,792.5 670.0,800.0 672.5,812.5 687.5,812.5 710.0,780.0 715.0,770.0 715.0,1270.0 313.8,1270.0"/>
<polygon fill="#B9EAB3" points="313.8,865.0 327.5,872.5 335.0,852.5 345.0,842.5 357.5,852.5 367.5,880.0 370.0,915.0 362.5,917.5 370.0,930.0 370.0,942.5 313.8,942.5"/>
<polygon fill="#B9EAB3" points="422.5,875.0 425.0,835.0 435.0,830.0 445.0,840.0 455.0,795.0 462.5,810.0 460.0,840.0 475.0,855.0 480.0,835.0 490.0,830.0 502.5,835.0 507.5,855.0 512.5,880.0 512.5,942.5 422.5,942.5"/>
<polygon fill="#B9EAB3" points="537.5,817.5 545.0,830.0 555.0,857.5 567.5,840.0 582.5,872.5 595.0,850.0 607.5,862.5 612.5,885.0 625.0,877.5 627.5,855.0 650.0,817.5 660.0,830.0 680.0,847.5 712.5,820.0 725.0,815.0 725.0,942.5 537.5,942.5"/>
<ellipse cx="347.5" cy="880.0" rx="11.2" ry="15.5" fill="#E8F8AF"/>
<polygon fill="#E8F8AF" points="313.8,887.5 325.0,892.5 332.5,902.5 332.5,927.5 325.0,930.0 313.8,917.5"/>
<polygon fill="#E8F8AF" points="425.0,852.5 435.0,850.0 445.0,867.5 445.0,885.0 435.0,880.0 425.0,867.5"/>
<polygon fill="#E8F8AF" points="480.0,850.0 490.0,850.0 497.5,862.5 500.0,875.0 492.5,880.0 485.0,865.0"/>
<polygon fill="#E8F8AF" points="467.5,905.0 472.5,897.5 472.5,922.5 468.8,917.5"/>
<polygon fill="#E8F8AF" points="560.0,875.0 567.5,862.5 568.8,882.5 560.0,882.5"/>
<polygon fill="#E8F8AF" points="595.0,870.0 600.0,880.0 602.5,890.0 595.0,890.0"/>
<polygon fill="#E8F8AF" points="550.0,900.0 555.0,887.5 557.5,930.0 550.0,930.0"/>
<polygon fill="#E8F8AF" points="607.5,922.5 625.0,897.5 630.0,907.5 620.0,930.0 607.5,930.0"/>
<polygon fill="#E8F8AF" points="635.0,872.5 652.5,837.5 665.0,850.0 680.0,867.5 700.0,850.0 722.5,867.5 722.5,885.0 700.0,885.0 682.5,900.0 670.0,880.0 652.5,860.0 642.5,880.0"/>
<polygon fill="#46CEBC" points="313.8,930.0 335.0,937.5 365.0,930.0 375.0,925.0 425.0,915.0 440.0,925.0 460.0,915.0 465.0,932.5 475.0,935.0 485.0,930.0 502.5,932.5 512.5,930.0 537.5,930.0 562.5,935.0 587.5,932.5 610.0,940.0 625.0,930.0 650.0,920.0 662.5,922.5 680.0,930.0 710.0,940.0 725.0,925.0 725.0,1270.0 313.8,1270.0"/>
<polygon fill="#00B7C6" points="425.0,940.0 450.0,937.5 512.5,935.0 515.0,955.0 517.5,1056.0 447.5,1056.0 442.5,1005.0 440.0,965.0 425.0,965.0"/>
<polygon fill="#00B7C6" points="392.5,892.5 405.0,900.0 407.5,955.0 405.0,1056.0 387.5,1056.0 390.0,955.0"/>
<polygon fill="#00B7C6" points="592.5,965.0 600.0,952.5 637.5,952.5 645.0,940.0 650.0,955.0 667.5,960.0 667.5,970.0 650.0,970.0 645.0,985.0 622.5,972.5 620.0,1005.0 610.0,1017.5 595.0,1005.0 595.0,970.0"/>
<polygon fill="#00B7C6" points="595.0,1030.0 612.5,1012.5 630.0,1027.5 625.0,1042.5 600.0,1042.5"/>
<polygon fill="#00B7C6" points="562.5,937.5 570.0,937.5 570.0,1005.0 562.5,1005.0"/>
<polygon fill="#B9EAB3" points="313.8,1030.0 325.0,1012.5 335.0,1020.0 340.0,1037.5 352.5,1040.0 365.0,1025.0 370.0,955.0 375.0,932.5 377.5,955.0 380.0,1005.0 375.0,1056.0 313.8,1056.0"/>
<polygon fill="#B9EAB3" points="412.5,947.5 417.5,980.0 425.0,1017.5 435.0,1037.5 435.0,1056.0 410.0,1056.0 412.5,1005.0"/>
<polygon fill="#B9EAB3" points="502.5,1015.0 515.0,1012.5 515.0,1056.0 507.5,1056.0"/>
<polygon fill="#B9EAB3" points="537.5,1056.0 537.5,1030.0 552.5,990.0 560.0,1025.0 575.0,1040.0 592.5,1047.5 615.0,1045.0 640.0,1030.0 650.0,1040.0 670.0,1025.0 680.0,990.0 690.0,995.0 700.0,1005.0 710.0,962.5 712.5,980.0 715.0,1056.0"/>
<polygon fill="#B9EAB3" points="578.8,970.0 585.0,965.0 585.0,995.0 578.8,992.5"/>
<polygon fill="#0093C5" stroke="#0093C5" stroke-width="7.0" stroke-linejoin="round" points="313.8,775.0 332.5,765.0 342.5,740.0 350.0,752.5 372.5,747.5 395.0,752.5 425.0,745.0 425.0,725.0 442.5,695.0 450.0,675.0 460.0,673.8 475.0,680.0 487.5,697.5 500.0,710.0 500.0,755.0 485.0,762.5 470.0,770.0 470.0,780.0 450.0,755.0 432.5,770.0 417.5,775.0 400.0,775.0 385.0,762.5 372.5,762.5 362.5,772.5 372.5,787.5 385.0,800.0 402.5,815.0 405.0,803.8 412.5,803.8 412.5,830.0 402.5,848.8 385.0,830.0 371.2,817.5 371.2,787.5 360.0,780.0 347.5,775.0 332.5,790.0 313.8,790.0"/>
<polygon fill="#0060AC" points="313.8,775.0 332.5,765.0 342.5,740.0 350.0,752.5 372.5,747.5 395.0,752.5 425.0,745.0 425.0,725.0 442.5,695.0 450.0,675.0 460.0,673.8 475.0,680.0 487.5,697.5 500.0,710.0 500.0,755.0 485.0,762.5 470.0,770.0 470.0,780.0 450.0,755.0 432.5,770.0 417.5,775.0 400.0,775.0 385.0,762.5 372.5,762.5 362.5,772.5 372.5,787.5 385.0,800.0 402.5,815.0 405.0,803.8 412.5,803.8 412.5,830.0 402.5,848.8 385.0,830.0 371.2,817.5 371.2,787.5 360.0,780.0 347.5,775.0 332.5,790.0 313.8,790.0"/>
<polygon fill="#0060AC" points="523.8,725.0 538.8,712.5 543.8,752.5 552.5,755.0 567.5,752.5 577.5,752.5 595.0,742.5 595.0,700.0 612.5,700.0 616.2,727.5 632.5,725.0 633.8,680.0 650.0,677.5 667.5,663.8 680.0,672.5 695.0,660.0 708.8,670.0 710.0,755.0 690.0,755.0 650.0,755.0 635.0,765.0 625.0,787.5 610.0,787.5 595.0,775.0 582.5,790.0 582.5,770.0 587.5,755.0 575.0,757.5 553.8,777.5 552.5,755.0 533.8,755.0 532.5,767.5 527.5,770.0 523.8,755.0"/>
<polygon fill="#0060AC" points="637.5,612.5 652.5,608.8 677.5,613.8 667.5,633.8 652.5,635.0"/>
<polygon fill="#0093C5" points="455.0,702.5 470.0,725.0 486.2,737.5 486.2,755.0 470.0,767.5 470.0,752.5 442.5,752.5 432.5,745.0 442.5,737.5"/>
<polygon fill="#00B7C6" points="320.0,747.5 330.0,730.0 335.0,745.0 330.0,752.5"/>
<polygon fill="#00B7C6" points="377.5,770.0 387.5,767.5 388.8,775.0 382.5,777.5"/>
<polygon fill="#0093C5" points="602.5,747.5 612.5,730.0 617.5,742.5 616.2,752.5"/>
<polygon fill="#00B7C6" points="501.2,550.0 537.5,550.0 535.0,617.5 527.5,675.0 522.5,720.0 520.0,755.0 510.0,755.0 506.2,680.0 502.5,617.5"/>
<polygon fill="#46CEBC" points="505.0,550.0 535.0,550.0 532.5,617.5 525.0,675.0 520.0,720.0 515.0,755.0 510.0,755.0 507.5,680.0 505.0,617.5"/>
<polygon fill="#B9EAB3" points="508.8,550.0 531.2,550.0 528.8,600.0 517.5,610.0 511.2,595.0"/>
<polygon fill="#E8F8AF" points="511.2,550.0 528.8,550.0 526.2,595.0 517.5,605.0"/>
<polygon fill="#B9EAB3" points="505.0,755.0 515.0,752.5 517.5,805.0 512.5,805.0 505.0,770.0"/>
<polygon fill="#E8F8AF" points="508.8,765.0 513.8,760.0 515.0,800.0 512.0,795.0"/>
<polygon fill="#0093C5" points="523.8,725.0 527.5,730.0 532.5,1056.0 517.5,1056.0 518.8,830.0 520.0,755.0"/>
<polygon fill="#0060AC" points="523.8,730.0 527.5,730.0 527.5,820.0 523.8,820.0"/>
<polygon fill="#0060AC" points="523.8,897.5 527.5,897.5 527.5,960.0 523.8,960.0"/>
<polygon fill="#00B7C6" points="715.0,550.0 1176.0,550.0 1176.0,1056.0 715.0,1056.0"/>
<polygon fill="#46CEBC" points="700.0,830.0 835.0,830.0 835.0,1056.0 700.0,1056.0"/>
<polygon fill="#B9EAB3" points="700.0,830.0 715.0,820.0 725.0,812.5 750.0,815.0 753.8,830.0 732.5,850.0 725.0,880.0 737.5,900.0 725.0,925.0 707.5,942.5 700.0,930.0"/>
<polygon fill="#E8F8AF" points="700.0,850.0 715.0,860.0 722.5,875.0 715.0,890.0 700.0,892.5"/>
<polygon fill="#E8F8AF" points="727.5,830.0 750.0,817.5 750.0,827.5 732.5,837.5"/>
<polygon fill="#00B7C6" points="725.0,855.0 760.0,830.0 795.0,830.0 800.0,880.0 787.5,930.0 782.5,955.0 762.5,980.0 757.5,1056.0 715.0,1056.0 725.0,955.0 732.5,905.0"/>
<polygon fill="#0093C5" points="762.5,740.0 797.5,737.5 800.0,805.0 797.5,830.0 787.5,855.0 785.0,892.5 782.5,930.0 770.0,930.0 750.0,905.0 737.5,880.0 762.5,855.0 760.0,805.0"/>
<polygon fill="#0060AC" points="763.8,857.5 780.0,857.5 782.5,887.5 762.5,890.0"/>
<polygon fill="#0060AC" points="750.0,902.5 780.0,905.0 780.0,930.0 765.0,917.5"/>
<polygon fill="#0093C5" points="727.5,967.5 750.0,955.0 760.0,980.0 760.0,1056.0 722.5,1056.0 725.0,1005.0"/>
<polygon fill="#0060AC" points="750.0,1030.0 760.0,1017.5 770.0,1030.0 770.0,1056.0 750.0,1056.0"/>
<polygon fill="#183096" points="753.8,1032.5 761.2,1025.0 767.5,1032.5 767.5,1056.0 753.8,1056.0"/>
<polygon fill="#B9EAB3" points="800.0,830.0 807.5,750.0 812.5,755.0 817.5,855.0 827.5,880.0 825.0,955.0 820.0,1056.0 800.0,1056.0 800.0,980.0 807.5,930.0 802.5,880.0"/>
<polygon fill="#E8F8AF" points="810.0,905.0 820.0,900.0 822.5,955.0 812.5,980.0 802.5,967.5"/>
<polygon fill="#B9EAB3" points="772.5,990.0 785.0,990.0 785.0,1015.0 772.5,1015.0"/>
<polygon fill="#B9EAB3" points="760.0,975.0 766.2,968.8 772.5,975.0 766.2,981.2"/>
<polygon fill="#B9EAB3" points="703.8,960.0 712.5,960.0 712.5,992.5 703.8,992.5"/>
<polygon fill="#00B7C6" points="700.0,950.0 715.0,955.0 725.0,960.0 722.5,1005.0 700.0,1005.0"/>
<polygon fill="#0093C5" points="700.0,550.0 712.5,550.0 715.0,655.0 717.5,730.0 710.0,755.0 700.0,767.5"/>
<polygon fill="#0060AC" points="700.0,662.5 708.8,670.0 710.0,750.0 700.0,752.5"/>
<polygon fill="#46CEBC" points="700.0,770.0 715.0,760.0 730.0,780.0 727.5,817.5 700.0,830.0"/>
<polygon fill="#0093C5" points="727.5,780.0 737.5,770.0 745.0,792.5 742.5,815.0 732.5,812.5"/>
<polygon fill="#183096" points="731.2,795.0 736.2,783.8 741.2,797.5 737.5,808.8 732.5,806.2"/>
<polygon fill="#46CEBC" points="800.0,550.0 815.0,550.0 817.5,655.0 810.0,705.0 805.0,655.0"/>
<polygon fill="#B9EAB3" points="803.8,595.0 810.0,595.0 810.0,652.5 805.0,652.5"/>
<polygon fill="#0093C5" points="817.5,550.0 830.0,585.0 837.5,605.0 837.5,705.0 825.0,735.0 820.0,755.0 812.5,735.0 822.5,705.0 825.0,655.0"/>
<polygon fill="#0093C5" points="820.0,755.0 835.0,747.5 840.0,775.0 855.0,795.0 855.0,810.0 840.0,815.0 825.0,805.0 820.0,792.5"/>
<polygon fill="#0060AC" points="822.5,760.0 832.5,752.5 835.0,775.0 850.0,792.5 852.5,805.0 840.0,810.0 830.0,800.0 822.5,790.0"/>
<polygon fill="#0093C5" points="907.5,755.0 925.0,770.0 935.0,780.0 950.0,760.0 950.0,740.0 961.2,740.0 961.2,770.0 950.0,792.5 950.0,830.0 947.5,870.0 950.0,905.0 947.5,930.0 940.0,955.0 932.5,1005.0 932.5,1056.0 835.0,1056.0 835.0,980.0 850.0,955.0 845.0,930.0 860.0,905.0 875.0,880.0 875.0,855.0 890.0,830.0 905.0,817.5 912.5,805.0 900.0,775.0"/>
<polygon fill="#0060AC" points="912.5,820.0 925.0,815.0 945.0,822.5 945.0,842.5 925.0,842.5"/>
<polygon fill="#0060AC" points="877.5,862.5 900.0,865.0 907.5,862.5 912.5,880.0 947.5,872.5 947.5,887.5 925.0,895.0 907.5,892.5 895.0,890.0 880.0,875.0"/>
<polygon fill="#0060AC" points="855.0,917.5 865.0,907.5 890.0,927.5 900.0,915.0 907.5,895.0 925.0,902.5 930.0,910.0 947.5,910.0 947.5,930.0 937.5,940.0 932.5,970.0 905.0,970.0 905.0,1005.0 900.0,1020.0 932.5,1020.0 932.5,1045.0 907.5,1047.5 907.5,1056.0 867.5,1056.0 870.0,1020.0 867.5,980.0 860.0,972.5 847.5,952.5 852.5,930.0"/>
<polygon fill="#0060AC" points="835.0,1000.0 845.0,1002.5 835.0,1012.5"/>
<polygon fill="#0060AC" points="835.0,1020.0 845.0,1030.0 842.5,1056.0 835.0,1056.0"/>
<polygon fill="#00B7C6" points="907.5,855.0 917.5,845.0 932.5,847.5 940.0,860.0 937.5,875.0 920.0,880.0 910.0,872.5"/>
<polygon fill="#46CEBC" points="910.0,855.0 920.0,848.8 931.2,851.2 936.2,860.0 933.8,871.2 920.0,875.0 912.5,867.5"/>
<polygon fill="#B9EAB3" points="913.8,855.0 922.5,852.5 930.0,857.5 925.0,865.0 917.5,862.5"/>
<polygon fill="#46CEBC" points="853.8,872.5 861.2,862.5 868.8,872.5 861.2,882.5"/>
<polygon fill="#B9EAB3" points="857.5,871.2 861.2,865.0 865.0,871.2 861.2,877.5"/>
<polygon fill="#46CEBC" points="880.0,892.5 895.0,892.5 900.0,905.0 892.5,915.0 885.0,905.0"/>
<polygon fill="#46CEBC" points="840.0,906.2 848.8,900.0 857.5,906.2 848.8,912.5"/>
<polygon fill="#B9EAB3" points="844.2,906.2 848.8,903.2 853.2,906.2 848.8,909.2"/>
<polygon fill="#00B7C6" points="855.0,935.0 865.0,922.5 875.0,935.0 865.0,947.5"/>
<polygon fill="#46CEBC" points="858.8,933.8 863.8,927.5 868.8,933.8 863.8,940.0"/>
<polygon fill="#00B7C6" points="835.0,855.0 850.0,850.0 860.0,855.0 850.0,892.5 840.0,905.0 835.0,955.0"/>
<polygon fill="#46CEBC" points="950.0,755.0 1176.0,755.0 1176.0,930.0 1137.5,942.5 1100.0,930.0 1050.0,942.5 1000.0,930.0 975.0,930.0 950.0,905.0"/>
<polygon fill="#00B7C6" points="975.0,855.0 1000.0,867.5 1037.5,912.5 1075.0,935.0 1176.0,935.0 1176.0,1056.0 932.5,1056.0 940.0,955.0 950.0,930.0 975.0,905.0"/>
<polygon fill="#46CEBC" points="940.0,955.0 965.0,950.0 982.5,1005.0 985.0,1056.0 935.0,1056.0"/>
<polygon fill="#B9EAB3" points="957.5,855.0 965.0,852.5 970.0,905.0 967.5,955.0 962.5,970.0 957.5,965.0 955.0,905.0"/>
<polygon fill="#B9EAB3" points="945.0,970.0 952.5,960.0 952.5,995.0 947.5,990.0"/>
<polygon fill="#B9EAB3" points="970.0,1025.0 975.0,1010.0 980.0,1030.0 977.5,1056.0 970.0,1056.0"/>
<polygon fill="#B9EAB3" points="970.0,780.0 977.5,770.0 982.5,787.5 977.5,800.0 970.0,792.5"/>
<polygon fill="#B9EAB3" points="1015.0,857.5 1021.2,848.8 1027.5,857.5 1021.2,866.2"/>
<polygon fill="#B9EAB3" points="981.2,853.8 987.5,848.8 993.8,853.8 987.5,858.8"/>
<polygon fill="#B9EAB3" points="1070.0,820.0 1082.5,813.8 1095.0,820.0 1090.0,830.0 1075.0,830.0"/>
<polygon fill="#B9EAB3" points="1070.0,892.5 1090.0,890.0 1092.5,902.5 1075.0,905.0"/>
<polygon fill="#E8F8AF" points="1073.8,893.8 1087.5,893.8 1087.5,901.2 1073.8,901.2"/>
<polygon fill="#B9EAB3" points="1011.2,916.2 1017.5,910.0 1023.8,916.2 1017.5,922.5"/>
<polygon fill="#B9EAB3" points="1137.5,840.0 1145.0,832.5 1155.0,840.0 1162.5,852.5 1157.5,862.5 1147.5,855.0"/>
<polygon fill="#E8F8AF" points="1140.5,841.2 1145.0,836.8 1149.5,841.2 1145.0,845.8"/>
<polygon fill="#B9EAB3" points="1117.5,805.0 1135.0,803.8 1135.0,820.0 1122.5,817.5"/>
<polygon fill="#B9EAB3" points="1097.5,770.0 1115.0,767.5 1115.0,780.0 1100.0,780.0"/>
<polygon fill="#0093C5" points="985.0,805.0 992.5,800.0 1007.5,830.0 1007.5,852.5 1000.0,850.0 987.5,820.0"/>
<polygon fill="#0060AC" points="987.5,807.5 991.2,805.0 1003.8,832.5 1002.5,837.5"/>
<polygon fill="#0093C5" points="1007.5,892.5 1032.5,865.0 1036.2,872.5 1015.0,900.0"/>
<polygon fill="#0060AC" points="1012.5,890.0 1030.0,872.5 1032.5,876.2 1016.2,893.8"/>
<polygon fill="#0093C5" points="1045.0,905.0 1100.0,835.0 1106.2,840.0 1105.0,857.5 1090.0,870.0 1050.0,915.0"/>
<polygon fill="#0060AC" points="1055.0,890.0 1100.0,842.5 1102.5,855.0 1087.5,867.5 1060.0,895.0"/>
<polygon fill="#0093C5" points="1075.0,792.5 1090.0,775.0 1093.8,785.0 1082.5,800.0"/>
<polygon fill="#0093C5" points="1035.0,907.5 1045.0,915.0 1060.0,927.5 1075.0,917.5 1090.0,915.0 1090.0,922.5 1062.5,932.5 1050.0,927.5 1035.0,915.0"/>
<polygon fill="#0093C5" points="1122.5,855.0 1130.0,862.5 1140.0,887.5 1157.5,872.5 1176.0,867.5 1176.0,880.0 1150.0,895.0 1140.0,905.0 1150.0,927.5 1140.0,930.0 1125.0,905.0 1130.0,892.5 1122.5,872.5"/>
<polygon fill="#0060AC" points="1125.0,870.0 1135.0,875.0 1140.0,892.5 1147.5,897.5 1142.5,902.5 1132.5,890.0"/>
<polygon fill="#46CEBC" points="1035.0,966.2 1046.2,960.0 1057.5,966.2 1046.2,972.5"/>
<polygon fill="#46CEBC" points="1082.5,946.2 1092.5,941.2 1102.5,946.2 1092.5,951.2"/>
<polygon fill="#46CEBC" points="1131.2,947.5 1145.0,941.2 1158.8,947.5 1145.0,953.8"/>
<polygon fill="#46CEBC" points="901.2,550.0 915.0,550.0 912.5,730.0 907.5,745.0 902.5,740.0"/>
<polygon fill="#46CEBC" points="912.5,730.0 940.0,730.0 942.5,755.0 935.0,780.0 920.0,755.0"/>
<polygon fill="#B9EAB3" points="912.5,550.0 940.0,550.0 941.2,705.0 937.5,730.0 935.0,755.0 925.0,745.0 917.5,730.0 913.8,655.0"/>
<polygon fill="#E8F8AF" points="916.2,550.0 936.2,550.0 937.5,692.5 932.5,705.0 925.0,700.0 920.0,680.0 917.5,630.0"/>
<polygon fill="#0093C5" points="955.0,592.5 961.2,582.5 967.5,592.5 961.2,602.5"/>
<polygon fill="#46CEBC" points="982.5,550.0 1015.0,550.0 1012.5,755.0 1000.0,770.0 987.5,755.0 985.0,680.0"/>
<polygon fill="#B9EAB3" points="987.5,550.0 1012.5,550.0 1010.0,705.0 1000.0,720.0 992.5,705.0 987.5,655.0"/>
<polygon fill="#E8F8AF" points="1000.0,550.0 1012.5,550.0 1011.2,680.0 1005.0,655.0"/>
<polygon fill="#0093C5" points="998.8,675.0 1006.2,680.0 1008.8,752.5 1000.0,755.0 997.5,730.0"/>
<polygon fill="#0060AC" points="1001.2,710.0 1006.2,710.0 1006.2,750.0 1001.2,750.0"/>
<polygon fill="#0093C5" points="1097.5,550.0 1112.5,550.0 1112.5,730.0 1107.5,755.0 1100.0,752.5 1097.5,705.0"/>
<polygon fill="#0060AC" points="1100.0,585.0 1106.2,590.0 1107.5,750.0 1102.5,752.5 1100.0,680.0"/>
<polygon fill="#0093C5" points="1165.0,550.0 1176.0,550.0 1176.0,805.0 1167.5,800.0 1162.5,767.5"/>
<polygon fill="#0060AC" points="1170.0,550.0 1176.0,550.0 1176.0,680.0 1171.2,655.0"/>
<polygon fill="#46CEBC" stroke="#46CEBC" stroke-width="10.0" stroke-linejoin="round" points="717.5,550.0 760.0,550.0 758.8,730.0 755.0,755.0 752.5,817.5 748.8,825.0 740.0,770.0 730.0,750.0 722.5,680.0"/>
<polygon fill="#B9EAB3" stroke="#B9EAB3" stroke-width="5.0" stroke-linejoin="round" points="717.5,550.0 760.0,550.0 758.8,730.0 755.0,755.0 752.5,817.5 748.8,825.0 740.0,770.0 730.0,750.0 722.5,680.0"/>
<polygon fill="#E8F8AF" points="717.5,550.0 760.0,550.0 758.8,730.0 755.0,755.0 752.5,817.5 748.8,825.0 740.0,770.0 730.0,750.0 722.5,680.0"/>
<polygon fill="#FFFFD9" points="732.5,550.0 757.0,550.0 756.2,730.0 753.8,750.0 751.2,792.5 747.5,795.0 742.5,755.0 735.0,735.0"/>
<polygon fill="#46CEBC" stroke="#46CEBC" stroke-width="8.0" stroke-linejoin="round" points="842.5,550.0 900.0,550.0 900.0,740.0 890.0,752.5 872.5,752.5 862.5,770.0 860.0,787.5 872.5,805.0 887.5,817.5 882.5,825.0 867.5,830.0 860.0,842.5 855.0,835.0 855.0,805.0 860.0,787.5 850.0,770.0 845.0,730.0"/>
<polygon fill="#B9EAB3" stroke="#B9EAB3" stroke-width="4.0" stroke-linejoin="round" points="842.5,550.0 900.0,550.0 900.0,740.0 890.0,752.5 872.5,752.5 862.5,770.0 860.0,787.5 872.5,805.0 887.5,817.5 882.5,825.0 867.5,830.0 860.0,842.5 855.0,835.0 855.0,805.0 860.0,787.5 850.0,770.0 845.0,730.0"/>
<polygon fill="#E8F8AF" points="842.5,550.0 900.0,550.0 900.0,740.0 890.0,752.5 872.5,752.5 862.5,770.0 860.0,787.5 872.5,805.0 887.5,817.5 882.5,825.0 867.5,830.0 860.0,842.5 855.0,835.0 855.0,805.0 860.0,787.5 850.0,770.0 845.0,730.0"/>
<polygon fill="#FFFFD9" points="845.0,550.0 897.5,550.0 897.5,740.0 885.0,750.0 870.0,750.0 860.0,770.0 862.5,805.0 875.0,817.5 862.5,830.0 860.0,837.5 857.5,805.0 850.0,775.0 845.0,730.0"/>
<polygon fill="#46CEBC" stroke="#46CEBC" stroke-width="10.0" stroke-linejoin="round" points="1012.5,550.0 1095.0,550.0 1093.8,742.5 1090.0,755.0 1075.0,760.0 1070.0,780.0 1060.0,800.0 1050.0,830.0 1047.5,850.0 1042.5,842.5 1035.0,805.0 1032.5,775.0 1025.0,805.0 1017.5,817.5 1007.5,795.0 1005.0,770.0 1012.5,755.0"/>
<polygon fill="#B9EAB3" stroke="#B9EAB3" stroke-width="5.0" stroke-linejoin="round" points="1012.5,550.0 1095.0,550.0 1093.8,742.5 1090.0,755.0 1075.0,760.0 1070.0,780.0 1060.0,800.0 1050.0,830.0 1047.5,850.0 1042.5,842.5 1035.0,805.0 1032.5,775.0 1025.0,805.0 1017.5,817.5 1007.5,795.0 1005.0,770.0 1012.5,755.0"/>
<polygon fill="#E8F8AF" points="1012.5,550.0 1095.0,550.0 1093.8,742.5 1090.0,755.0 1075.0,760.0 1070.0,780.0 1060.0,800.0 1050.0,830.0 1047.5,850.0 1042.5,842.5 1035.0,805.0 1032.5,775.0 1025.0,805.0 1017.5,817.5 1007.5,795.0 1005.0,770.0 1012.5,755.0"/>
<polygon fill="#FFFFD9" points="1015.5,550.0 1091.2,550.0 1090.0,742.5 1075.0,755.0 1065.0,775.0 1055.0,805.0 1048.8,842.5 1045.0,840.0 1040.0,805.0 1035.0,772.5 1027.5,775.0 1022.5,805.0 1017.5,810.0 1010.0,790.0 1010.0,770.0 1015.5,750.0"/>
<polygon fill="#46CEBC" stroke="#46CEBC" stroke-width="8.0" stroke-linejoin="round" points="1122.5,550.0 1162.5,550.0 1162.5,755.0 1157.5,780.0 1150.0,797.5 1142.5,780.0 1135.0,740.0 1125.0,705.0"/>
<polygon fill="#B9EAB3" stroke="#B9EAB3" stroke-width="4.0" stroke-linejoin="round" points="1122.5,550.0 1162.5,550.0 1162.5,755.0 1157.5,780.0 1150.0,797.5 1142.5,780.0 1135.0,740.0 1125.0,705.0"/>
<polygon fill="#E8F8AF" points="1122.5,550.0 1162.5,550.0 1162.5,755.0 1157.5,780.0 1150.0,797.5 1142.5,780.0 1135.0,740.0 1125.0,705.0"/>
<polygon fill="#FFFFD9" points="1126.2,550.0 1158.8,550.0 1157.5,742.5 1150.0,785.0 1145.0,780.0 1137.5,735.0 1128.8,700.0"/>
<polygon fill="#00B7C6" points="1025.0,792.5 1032.5,777.5 1037.5,792.5 1035.0,810.0 1027.5,805.0"/>
<polygon fill="#0093C5" points="870.0,770.0 885.0,765.0 900.0,775.0 905.0,795.0 895.0,805.0 880.0,802.5 870.0,790.0"/>
<polygon fill="#0060AC" points="872.5,780.0 885.0,772.5 897.5,780.0 901.2,792.5 892.5,801.2 880.0,797.5"/>
<polygon fill="#183096" points="875.0,785.0 885.0,777.5 895.0,782.5 898.8,792.5 890.0,798.8 880.0,795.0"/>
<polygon fill="#00185A" points="877.5,787.5 886.2,782.5 893.8,787.5 893.8,793.8 885.0,795.0"/>
<polygon fill="#00B7C6" points="1175.0,550.0 1576.0,550.0 1576.0,1056.0 1175.0,1056.0"/>
<polygon fill="#46CEBC" points="1100.0,755.0 1130.0,755.0 1150.0,792.5 1175.0,805.0 1175.0,830.0 1150.0,880.0 1125.0,905.0 1100.0,930.0"/>
<polygon fill="#B9EAB3" points="1100.0,767.5 1115.0,767.5 1115.0,797.5 1100.0,797.5"/>
<polygon fill="#B9EAB3" points="1117.5,802.5 1137.5,802.5 1137.5,825.0 1125.0,825.0"/>
<polygon fill="#B9EAB3" points="1132.5,837.5 1145.0,832.5 1157.5,842.5 1167.5,857.5 1162.5,865.0 1150.0,860.0 1137.5,850.0"/>
<polygon fill="#E8F8AF" points="1138.8,841.2 1145.0,835.0 1151.2,841.2 1145.0,847.5"/>
<polygon fill="#0093C5" points="1125.0,872.5 1175.0,872.5 1145.0,900.0 1137.5,897.5 1130.0,912.5 1135.0,930.0 1125.0,925.0 1122.5,905.0 1137.5,885.0"/>
<polygon fill="#0060AC" points="1132.5,877.5 1170.0,875.0 1145.0,895.0 1140.0,890.0"/>
<polygon fill="#0093C5" points="1100.0,830.0 1107.5,835.0 1110.0,855.0 1100.0,860.0"/>
<polygon fill="#0093C5" points="1125.0,760.0 1135.0,755.0 1137.5,780.0 1132.5,797.5 1125.0,780.0"/>
<polygon fill="#46CEBC" points="1185.0,735.0 1217.5,732.5 1220.0,755.0 1217.5,805.0 1210.0,830.0 1200.0,830.0 1190.0,805.0 1175.0,830.0 1170.0,855.0 1150.0,880.0 1160.0,830.0 1175.0,800.0 1182.5,780.0"/>
<polygon fill="#0093C5" points="1192.5,805.0 1202.5,790.0 1210.0,805.0 1205.0,845.0 1200.0,855.0 1195.0,830.0"/>
<polygon fill="#0060AC" points="1200.0,820.0 1203.0,820.0 1203.0,847.5 1200.0,847.5"/>
<polygon fill="#0093C5" points="1200.0,872.5 1212.5,865.0 1217.5,880.0 1230.0,905.0 1225.0,920.0 1212.5,920.0 1210.0,895.0"/>
<polygon fill="#0060AC" points="1205.0,875.0 1211.2,870.0 1215.0,885.0 1225.0,905.0 1220.0,915.0 1212.5,912.5 1211.2,895.0"/>
<polygon fill="#0093C5" points="1180.0,905.0 1190.0,902.5 1192.5,930.0 1187.5,950.0 1182.5,930.0"/>
<polygon fill="#0093C5" points="1207.5,937.5 1220.0,930.0 1235.0,950.0 1232.5,957.5 1210.0,955.0"/>
<polygon fill="#0093C5" points="1237.5,880.0 1250.0,875.0 1260.0,890.0 1255.0,900.0 1242.5,892.5"/>
<polygon fill="#0060AC" points="1242.5,882.5 1250.0,880.0 1255.0,890.0 1250.0,892.5"/>
<polygon fill="#0093C5" points="1240.0,862.5 1250.0,857.5 1260.0,872.5 1250.0,870.0"/>
<polygon fill="#46CEBC" points="1172.5,975.0 1182.5,963.8 1195.0,970.0 1197.5,985.0 1192.5,1005.0 1185.0,1011.2 1175.0,1000.0"/>
<polygon fill="#B9EAB3" points="1182.5,973.8 1190.0,973.8 1191.2,985.0 1185.0,986.2"/>
<polygon fill="#46CEBC" points="1131.2,943.8 1145.0,936.2 1158.8,943.8 1145.0,951.2"/>
<polygon fill="#B9EAB3" points="1220.0,930.0 1227.5,927.0 1235.0,930.0 1227.5,933.0"/>
<polygon fill="#B9EAB3" points="1237.5,906.2 1243.8,903.2 1250.0,906.2 1243.8,909.2"/>
<polygon fill="#0093C5" points="1177.5,1035.0 1187.5,1025.0 1200.0,1012.5 1203.8,1025.0 1207.5,1056.0 1175.0,1056.0"/>
<polygon fill="#0060AC" points="1182.5,1037.5 1190.0,1030.0 1197.5,1037.5 1197.5,1056.0 1182.5,1056.0"/>
<polygon fill="#183096" points="1185.0,1040.0 1190.0,1037.5 1191.2,1056.0 1186.2,1056.0"/>
<polygon fill="#46CEBC" points="1255.0,915.0 1257.5,915.0 1257.5,997.5 1255.0,997.5"/>
<polygon fill="#0093C5" points="1162.5,550.0 1182.5,550.0 1182.5,755.0 1175.0,780.0 1165.0,800.0 1157.5,805.0 1162.5,755.0 1165.0,680.0"/>
<polygon fill="#0060AC" points="1168.8,585.0 1177.5,587.5 1178.8,730.0 1175.0,775.0 1167.5,792.5 1170.0,730.0"/>
<polygon fill="#0093C5" points="1262.5,550.0 1290.0,550.0 1285.0,605.0 1275.0,630.0 1265.0,675.0 1275.0,705.0 1285.0,730.0 1290.0,755.0 1275.0,760.0 1270.0,730.0 1255.0,705.0 1255.0,675.0 1260.0,630.0"/>
<polygon fill="#0060AC" points="1270.0,550.0 1285.0,550.0 1280.0,600.0 1272.5,595.0"/>
<polygon fill="#0060AC" points="1272.5,720.0 1277.5,725.0 1275.0,735.0 1270.0,727.5"/>
<polygon fill="#46CEBC" points="1432.5,550.0 1490.0,550.0 1485.0,605.0 1480.0,625.0 1470.0,605.0 1457.5,592.5 1447.5,607.5 1437.5,605.0"/>
<polygon fill="#0093C5" points="1435.0,550.0 1450.0,550.0 1445.0,595.0 1435.0,592.5"/>
<polygon fill="#0093C5" points="1462.5,550.0 1485.0,550.0 1482.5,605.0 1475.0,595.0"/>
<polygon fill="#0093C5" points="1535.0,550.0 1576.0,550.0 1576.0,595.0 1565.0,597.5 1550.0,590.0 1540.0,612.5 1535.0,605.0"/>
<polygon fill="#0060AC" points="1537.5,585.0 1550.0,587.5 1542.5,597.5"/>
<polygon fill="#0093C5" points="1272.5,755.0 1290.0,752.5 1325.0,755.0 1337.5,760.0 1350.0,752.5 1382.5,752.5 1410.0,742.5 1425.0,752.5 1440.0,742.5 1460.0,752.5 1482.5,750.0 1500.0,752.5 1530.0,747.5 1540.0,752.5 1565.0,752.5 1576.0,750.0 1576.0,1270.0 1272.5,1270.0"/>
<polygon fill="#0060AC" points="1272.5,765.0 1295.0,762.5 1335.0,765.0 1340.0,775.0 1355.0,765.0 1367.5,770.0 1400.0,760.0 1475.0,760.0 1480.0,752.5 1490.0,765.0 1525.0,765.0 1535.0,750.0 1547.5,760.0 1562.5,770.0 1576.0,770.0 1576.0,1270.0 1272.5,1270.0"/>
<polygon fill="#0093C5" points="1272.5,792.5 1285.0,785.0 1312.5,790.0 1395.0,790.0 1407.5,780.0 1420.0,790.0 1490.0,787.5 1525.0,790.0 1537.5,780.0 1547.5,790.0 1576.0,787.5 1576.0,1270.0 1272.5,1270.0"/>
<polygon fill="#46CEBC" points="1275.0,800.0 1285.0,795.0 1312.5,797.5 1395.0,797.5 1407.5,787.5 1420.0,797.5 1490.0,795.0 1525.0,797.5 1537.5,787.5 1550.0,797.5 1576.0,795.0 1576.0,1270.0 1275.0,1270.0"/>
<polygon fill="#E8F8AF" points="1282.5,802.5 1312.5,802.5 1395.0,802.5 1407.5,795.0 1425.0,802.5 1490.0,801.2 1525.0,802.5 1537.5,792.5 1550.0,802.5 1576.0,801.2 1576.0,1270.0 1282.5,1270.0"/>
<polygon fill="#B9EAB3" points="1275.0,812.5 1325.0,812.5 1340.0,827.5 1355.0,817.5 1375.0,825.0 1397.5,812.5 1475.0,810.0 1490.0,817.5 1502.5,827.5 1512.5,815.0 1525.0,825.0 1540.0,812.5 1557.5,822.5 1576.0,820.0 1576.0,1270.0 1275.0,1270.0"/>
<polygon fill="#46CEBC" points="1270.0,820.0 1325.0,820.0 1340.0,832.5 1355.0,823.8 1375.0,830.0 1397.5,817.5 1475.0,816.2 1490.0,823.8 1502.5,832.5 1512.5,821.2 1525.0,830.0 1540.0,817.5 1557.5,827.5 1576.0,825.0 1576.0,1270.0 1270.0,1270.0"/>
<polygon fill="#00B7C6" points="1267.5,830.0 1325.0,832.5 1375.0,840.0 1400.0,830.0 1412.5,825.0 1425.0,832.5 1512.5,832.5 1525.0,840.0 1537.5,827.5 1550.0,837.5 1576.0,835.0 1576.0,1270.0 1267.5,1270.0"/>
<polygon fill="#0093C5" points="1270.0,847.5 1325.0,845.0 1375.0,850.0 1400.0,842.5 1412.5,837.5 1425.0,845.0 1512.5,845.0 1525.0,850.0 1537.5,840.0 1550.0,850.0 1576.0,847.5 1576.0,1270.0 1270.0,1270.0"/>
<polygon fill="#0060AC" points="1272.5,855.0 1325.0,851.2 1375.0,855.0 1400.0,848.8 1412.5,845.0 1425.0,851.2 1512.5,851.2 1525.0,855.0 1537.5,847.5 1550.0,855.0 1576.0,853.8 1576.0,1270.0 1272.5,1270.0"/>
<polygon fill="#183096" points="1345.0,872.5 1357.5,862.5 1385.0,862.5 1386.2,872.5"/>
<polygon fill="#183096" points="1425.0,865.0 1490.0,865.0 1490.0,873.8 1425.0,873.8"/>
<polygon fill="#183096" points="1283.8,862.5 1287.0,862.5 1287.0,871.2 1283.8,871.2"/>
<polygon fill="#0093C5" points="1272.5,872.5 1297.5,867.5 1307.5,862.5 1317.5,872.5 1387.5,875.0 1400.0,860.0 1412.5,862.5 1422.5,875.0 1500.0,875.0 1510.0,862.5 1525.0,872.5 1537.5,862.5 1550.0,875.0 1576.0,875.0 1576.0,1270.0 1272.5,1270.0"/>
<polygon fill="#00B7C6" points="1272.5,877.5 1387.5,880.0 1400.0,867.5 1412.5,870.0 1422.5,880.0 1576.0,880.0 1576.0,1270.0 1272.5,1270.0"/>
<polygon fill="#46CEBC" points="1275.0,881.2 1387.5,883.8 1400.0,872.5 1412.5,875.0 1422.5,883.8 1576.0,883.8 1576.0,1270.0 1275.0,1270.0"/>
<polygon fill="#B9EAB3" points="1287.5,883.0 1325.0,883.0 1325.0,887.0 1287.5,887.0"/>
<polygon fill="#B9EAB3" points="1370.0,882.5 1405.0,882.5 1405.0,887.0 1370.0,887.0"/>
<polygon fill="#B9EAB3" points="1497.5,882.5 1552.5,882.5 1552.5,887.0 1497.5,887.0"/>
<polygon fill="#B9EAB3" points="1547.5,892.5 1576.0,892.5 1576.0,900.0 1547.5,900.0"/>
<polygon fill="#E8F8AF" points="1550.0,893.8 1576.0,893.8 1576.0,897.5 1550.0,897.5"/>
<polygon fill="#00B7C6" points="1275.0,890.0 1312.5,890.0 1400.0,892.5 1412.5,885.0 1422.5,892.5 1500.0,892.5 1545.0,901.2 1576.0,902.5 1576.0,1270.0 1275.0,1270.0"/>
<polygon fill="#0093C5" points="1280.0,902.5 1300.0,896.2 1312.5,897.5 1325.0,902.5 1350.0,900.0 1375.0,902.5 1400.0,897.5 1412.5,892.5 1425.0,902.5 1500.0,902.5 1512.5,897.5 1576.0,907.5 1576.0,1270.0 1280.0,1270.0"/>
<polygon fill="#0060AC" points="1285.0,907.5 1300.0,902.5 1312.5,903.8 1325.0,912.5 1340.0,905.0 1352.5,905.0 1367.5,915.0 1382.5,907.5 1400.0,905.0 1412.5,907.5 1425.0,915.0 1490.0,915.0 1500.0,907.5 1512.5,905.0 1525.0,912.5 1537.5,907.5 1576.0,915.0 1576.0,1270.0 1285.0,1270.0"/>
<polygon fill="#0093C5" points="1285.0,917.5 1325.0,918.8 1400.0,917.5 1410.0,915.0 1425.0,922.5 1462.5,923.8 1467.5,1057.5 1280.0,1057.5"/>
<polygon fill="#00B7C6" points="1250.0,925.0 1325.0,926.2 1400.0,925.0 1410.0,922.5 1425.0,930.0 1462.5,930.0 1465.5,1057.5 1250.0,1057.5"/>
<polygon fill="#46CEBC" points="1295.0,937.5 1455.0,937.5 1460.0,1057.5 1297.5,1057.5"/>
<polygon fill="#B9EAB3" points="1280.0,928.8 1290.0,928.8 1290.0,931.2 1280.0,931.2"/>
<polygon fill="#B9EAB3" points="1335.0,928.8 1345.0,928.8 1345.0,931.2 1335.0,931.2"/>
<polygon fill="#B9EAB3" points="1447.5,928.8 1456.2,928.8 1456.2,931.2 1447.5,931.2"/>
<polygon fill="#0093C5" points="1487.5,927.5 1495.0,921.2 1502.5,927.5 1495.0,933.8"/>
<polygon fill="#0093C5" points="1552.5,926.2 1576.0,926.2 1576.0,933.8 1552.5,933.8"/>
<polygon fill="#0093C5" points="1255.0,775.0 1275.0,760.0 1285.0,775.0 1275.0,792.5 1270.0,805.0 1275.0,820.0 1262.5,830.0 1255.0,845.0 1270.0,855.0 1272.5,877.5 1260.0,875.0 1240.0,820.0 1250.0,795.0"/>
<polygon fill="#0060AC" points="1262.5,787.5 1275.0,770.0 1282.5,775.0 1272.5,795.0 1267.5,802.5 1265.0,795.0"/>
<polygon fill="#183096" points="1270.0,785.0 1277.5,775.0 1280.0,777.5 1272.5,792.5"/>
<polygon fill="#00B7C6" points="1475.0,680.0 1482.5,665.0 1486.2,680.0 1486.2,755.0 1470.0,755.0 1472.5,705.0"/>
<polygon fill="#0093C5" points="1535.0,595.0 1547.5,605.0 1545.0,655.0 1542.5,755.0 1536.2,755.0 1537.5,655.0"/>
<polygon fill="#46CEBC" stroke="#46CEBC" stroke-width="8.0" stroke-linejoin="round" points="1220.0,550.0 1260.0,550.0 1260.0,630.0 1255.0,680.0 1255.0,730.0 1250.0,770.0 1240.0,795.0 1235.0,820.0 1245.0,842.5 1240.0,855.0 1230.0,880.0 1225.0,875.0 1220.0,855.0 1215.0,835.0 1220.0,805.0 1217.5,755.0"/>
<polygon fill="#B9EAB3" stroke="#B9EAB3" stroke-width="4.0" stroke-linejoin="round" points="1220.0,550.0 1260.0,550.0 1260.0,630.0 1255.0,680.0 1255.0,730.0 1250.0,770.0 1240.0,795.0 1235.0,820.0 1245.0,842.5 1240.0,855.0 1230.0,880.0 1225.0,875.0 1220.0,855.0 1215.0,835.0 1220.0,805.0 1217.5,755.0"/>
<polygon fill="#E8F8AF" points="1220.0,550.0 1260.0,550.0 1260.0,630.0 1255.0,680.0 1255.0,730.0 1250.0,770.0 1240.0,795.0 1235.0,820.0 1245.0,842.5 1240.0,855.0 1230.0,880.0 1225.0,875.0 1220.0,855.0 1215.0,835.0 1220.0,805.0 1217.5,755.0"/>
<polygon fill="#FFFFD9" points="1225.0,550.0 1253.8,550.0 1252.5,680.0 1251.2,730.0 1245.0,770.0 1235.0,795.0 1230.0,820.0 1225.0,820.0 1222.5,755.0"/>
<polygon fill="#46CEBC" stroke="#46CEBC" stroke-width="10.0" stroke-linejoin="round" points="1285.0,612.5 1300.0,550.0 1432.5,550.0 1435.0,610.0 1450.0,630.0 1460.0,612.5 1475.0,630.0 1482.5,667.5 1472.5,692.5 1465.0,730.0 1460.0,750.0 1440.0,740.0 1425.0,752.5 1410.0,740.0 1382.5,752.5 1350.0,752.5 1325.0,752.5 1297.5,750.0 1290.0,720.0 1280.0,680.0 1280.0,642.5"/>
<polygon fill="#B9EAB3" stroke="#B9EAB3" stroke-width="5.0" stroke-linejoin="round" points="1285.0,612.5 1300.0,550.0 1432.5,550.0 1435.0,610.0 1450.0,630.0 1460.0,612.5 1475.0,630.0 1482.5,667.5 1472.5,692.5 1465.0,730.0 1460.0,750.0 1440.0,740.0 1425.0,752.5 1410.0,740.0 1382.5,752.5 1350.0,752.5 1325.0,752.5 1297.5,750.0 1290.0,720.0 1280.0,680.0 1280.0,642.5"/>
<polygon fill="#E8F8AF" points="1285.0,612.5 1300.0,550.0 1432.5,550.0 1435.0,610.0 1450.0,630.0 1460.0,612.5 1475.0,630.0 1482.5,667.5 1472.5,692.5 1465.0,730.0 1460.0,750.0 1440.0,740.0 1425.0,752.5 1410.0,740.0 1382.5,752.5 1350.0,752.5 1325.0,752.5 1297.5,750.0 1290.0,720.0 1280.0,680.0 1280.0,642.5"/>
<polygon fill="#FFFFD9" points="1290.0,615.0 1307.5,550.0 1320.0,595.0 1327.5,605.0 1335.0,590.0 1345.0,550.0 1425.0,550.0 1432.5,615.0 1450.0,637.5 1455.0,617.5 1470.0,637.5 1475.0,662.5 1465.0,692.5 1457.5,735.0 1442.5,717.5 1425.0,740.0 1410.0,730.0 1382.5,745.0 1350.0,747.5 1332.5,750.0 1325.0,735.0 1300.0,730.0 1295.0,710.0 1285.0,680.0 1285.0,642.5"/>
<polygon fill="#46CEBC" stroke="#46CEBC" stroke-width="8.0" stroke-linejoin="round" points="1490.0,617.5 1500.0,595.0 1525.0,590.0 1530.0,617.5 1531.2,730.0 1525.0,745.0 1500.0,750.0 1490.0,730.0 1486.2,680.0"/>
<polygon fill="#B9EAB3" stroke="#B9EAB3" stroke-width="4.0" stroke-linejoin="round" points="1490.0,617.5 1500.0,595.0 1525.0,590.0 1530.0,617.5 1531.2,730.0 1525.0,745.0 1500.0,750.0 1490.0,730.0 1486.2,680.0"/>
<polygon fill="#E8F8AF" points="1490.0,617.5 1500.0,595.0 1525.0,590.0 1530.0,617.5 1531.2,730.0 1525.0,745.0 1500.0,750.0 1490.0,730.0 1486.2,680.0"/>
<polygon fill="#FFFFD9" points="1493.8,620.0 1502.5,600.0 1522.5,595.0 1526.2,620.0 1527.5,730.0 1500.0,745.0 1493.8,730.0 1490.0,680.0"/>
<polygon fill="#46CEBC" stroke="#46CEBC" stroke-width="8.0" stroke-linejoin="round" points="1547.5,642.5 1555.0,617.5 1576.0,612.5 1576.0,750.0 1565.0,747.5 1550.0,730.0"/>
<polygon fill="#B9EAB3" stroke="#B9EAB3" stroke-width="4.0" stroke-linejoin="round" points="1547.5,642.5 1555.0,617.5 1576.0,612.5 1576.0,750.0 1565.0,747.5 1550.0,730.0"/>
<polygon fill="#E8F8AF" points="1547.5,642.5 1555.0,617.5 1576.0,612.5 1576.0,750.0 1565.0,747.5 1550.0,730.0"/>
<polygon fill="#FFFFD9" points="1551.2,645.0 1557.5,625.0 1576.0,620.0 1576.0,742.5 1567.5,742.5 1553.8,730.0"/>
<polygon fill="#00B7C6" points="1650.0,550.0 1976.0,550.0 1976.0,730.0 1650.0,730.0"/>
<polygon fill="#0093C5" points="1645.0,720.0 1675.0,710.0 1705.0,725.0 1775.0,722.5 1795.0,715.0 1835.0,715.0 1870.0,715.0 1945.0,727.5 1960.0,717.5 1976.0,720.0 1976.0,1270.0 1645.0,1270.0"/>
<polygon fill="#0060AC" points="1575.0,755.0 1650.0,755.0 1680.0,745.0 1795.0,745.0 1805.0,732.5 1822.5,745.0 1832.5,732.5 1835.0,752.5 1850.0,760.0 1872.5,747.5 1882.5,750.0 1900.0,760.0 1930.0,757.5 1942.5,770.0 1976.0,767.5 1976.0,1270.0 1575.0,1270.0"/>
<polygon fill="#0093C5" points="1647.5,550.0 1675.0,550.0 1672.5,655.0 1675.0,710.0 1705.0,725.0 1650.0,730.0"/>
<polygon fill="#0060AC" points="1653.8,550.0 1672.5,550.0 1672.5,645.0 1665.0,650.0 1660.0,630.0 1655.0,617.5"/>
<polygon fill="#183096" points="1660.0,597.5 1666.2,595.0 1670.0,610.0 1665.0,622.5 1660.0,612.5"/>
<polygon fill="#0093C5" points="1795.0,550.0 1836.2,550.0 1835.0,715.0 1795.0,715.0"/>
<polygon fill="#0060AC" points="1800.0,550.0 1810.0,550.0 1810.0,680.0 1805.0,690.0 1801.2,680.0"/>
<polygon fill="#0060AC" points="1825.0,550.0 1835.0,550.0 1833.8,680.0 1827.5,680.0"/>
<polygon fill="#00B7C6" points="1815.5,550.0 1822.5,550.0 1822.5,705.0 1815.5,705.0"/>
<polygon fill="#0093C5" stroke="#0093C5" stroke-width="19.0" stroke-linejoin="round" points="1842.5,550.0 1855.0,550.0 1856.2,705.0 1852.5,745.0 1847.5,747.5 1843.8,705.0"/>
<polygon fill="#00B7C6" stroke="#00B7C6" stroke-width="13.0" stroke-linejoin="round" points="1842.5,550.0 1855.0,550.0 1856.2,705.0 1852.5,745.0 1847.5,747.5 1843.8,705.0"/>
<polygon fill="#46CEBC" stroke="#46CEBC" stroke-width="8.0" stroke-linejoin="round" points="1842.5,550.0 1855.0,550.0 1856.2,705.0 1852.5,745.0 1847.5,747.5 1843.8,705.0"/>
<polygon fill="#B9EAB3" stroke="#B9EAB3" stroke-width="4.0" stroke-linejoin="round" points="1842.5,550.0 1855.0,550.0 1856.2,705.0 1852.5,745.0 1847.5,747.5 1843.8,705.0"/>
<polygon fill="#E8F8AF" points="1842.5,550.0 1855.0,550.0 1856.2,705.0 1852.5,745.0 1847.5,747.5 1843.8,705.0"/>
<polygon fill="#FFFFD9" points="1845.0,550.0 1853.0,550.0 1853.8,700.0 1850.0,730.0 1846.2,700.0"/>
<polygon fill="#0060AC" points="1860.0,550.0 1868.8,550.0 1867.5,612.5 1862.5,612.5"/>
<polygon fill="#0093C5" points="1885.0,787.5 1895.0,775.0 1910.0,777.5 1925.0,790.0 1940.0,802.5 1935.0,812.5 1915.0,812.5 1900.0,800.0"/>
<polygon fill="#00B7C6" points="1895.0,787.5 1902.5,783.8 1910.0,787.5 1902.5,791.2"/>
<polygon fill="#0093C5" points="1932.5,787.5 1950.0,772.5 1976.0,775.0 1976.0,795.0 1960.0,797.5 1945.0,802.5"/>
<polygon fill="#00B7C6" points="1941.2,787.5 1947.5,783.8 1953.8,787.5 1947.5,791.2"/>
<polygon fill="#0093C5" points="1865.0,852.5 1900.0,850.0 1925.0,867.5 1945.0,852.5 1960.0,852.5 1976.0,867.5 1976.0,905.0 1935.0,905.0 1910.0,887.5 1892.5,875.0 1882.5,885.0 1870.0,867.5"/>
<polygon fill="#00B7C6" points="1882.5,892.5 1892.5,875.0 1910.0,890.0 1925.0,902.5 1935.0,905.0 1945.0,892.5 1976.0,875.0 1976.0,1056.0 1865.0,1056.0 1870.0,1005.0 1872.5,930.0"/>
<polygon fill="#0093C5" points="1947.5,990.0 1960.0,950.0 1965.0,992.5 1976.0,980.0 1976.0,1056.0 1940.0,1056.0 1945.0,1017.5"/>
<polygon fill="#0060AC" points="1950.0,1056.0 1957.5,1025.0 1965.0,1017.5 1967.5,1056.0"/>
<polygon fill="#46CEBC" points="1862.5,980.0 1875.0,950.0 1885.0,955.0 1887.5,1005.0 1880.0,1030.0 1872.5,1056.0 1862.5,1056.0"/>
<polygon fill="#B9EAB3" points="1871.2,980.0 1877.5,970.0 1881.2,992.5 1877.5,1010.0 1872.5,1000.0"/>
<polygon fill="#0093C5" points="1680.0,930.0 1690.0,922.5 1697.5,892.5 1702.5,875.0 1712.5,865.0 1725.0,870.0 1730.0,905.0 1725.0,955.0 1727.5,1005.0 1720.0,1025.0 1727.5,1030.0 1727.5,1056.0 1682.5,1056.0"/>
<polygon fill="#00B7C6" points="1683.8,935.0 1695.0,927.5 1702.5,930.0 1705.0,980.0 1700.0,1017.5 1697.5,1056.0 1685.0,1056.0"/>
<polygon fill="#46CEBC" points="1687.5,942.5 1695.0,935.0 1697.5,980.0 1695.0,1017.5 1692.5,1056.0 1687.5,1056.0 1686.2,1005.0"/>
<polygon fill="#B9EAB3" points="1690.0,955.0 1693.8,955.0 1693.8,980.0 1690.0,980.0"/>
<polygon fill="#0093C5" points="1750.0,950.0 1755.0,915.0 1762.5,887.5 1780.0,885.0 1782.5,905.0 1777.5,930.0 1785.0,955.0 1787.5,1005.0 1782.5,1056.0 1750.0,1056.0"/>
<polygon fill="#00B7C6" points="1752.5,955.0 1762.5,915.0 1770.0,920.0 1772.5,980.0 1770.0,1030.0 1765.0,1056.0 1755.0,1056.0"/>
<polygon fill="#46CEBC" points="1757.5,970.0 1763.8,930.0 1767.5,980.0 1765.0,1030.0 1760.0,1030.0"/>
<polygon fill="#0093C5" points="1807.5,940.0 1820.0,927.5 1832.5,940.0 1832.5,1056.0 1810.0,1056.0"/>
<polygon fill="#00B7C6" points="1811.2,945.0 1820.0,935.0 1828.8,945.0 1827.5,1056.0 1813.8,1056.0"/>
<polygon fill="#46CEBC" points="1815.0,955.0 1821.2,945.0 1825.0,980.0 1825.0,1056.0 1816.2,1056.0"/>
<polygon fill="#B9EAB3" points="1817.5,990.0 1821.2,985.0 1822.5,1017.5 1818.8,1015.0"/>
<polygon fill="#0093C5" points="1550.0,927.5 1587.5,925.0 1607.5,927.5 1610.0,935.0 1552.5,935.0"/>
<polygon fill="#0093C5" points="1657.5,881.2 1672.5,881.2 1672.5,886.2 1657.5,886.2"/>
<polygon fill="#183096" points="1648.8,782.5 1670.0,782.5 1670.0,803.8 1648.8,803.8"/>
<polygon fill="#183096" points="1622.5,822.5 1630.0,827.5 1637.5,840.0 1622.5,840.0"/>
<polygon fill="#183096" points="1835.0,787.5 1842.5,770.0 1860.0,770.0 1862.5,787.5 1857.5,780.0 1847.5,780.0"/>
<polygon fill="#0093C5" points="1640.0,820.0 1655.0,810.0 1670.0,812.5 1682.5,830.0 1695.0,837.5 1685.0,855.0 1670.0,857.5 1650.0,867.5 1640.0,877.5 1620.0,875.0 1612.5,857.5 1620.0,850.0 1640.0,845.0"/>
<polygon fill="#00B7C6" points="1643.8,822.5 1655.0,815.0 1667.5,817.5 1677.5,830.0 1685.0,837.5 1680.0,850.0 1667.5,853.8 1647.5,862.5 1637.5,872.5 1622.5,870.0 1617.5,857.5 1625.0,852.5 1642.5,847.5"/>
<polygon fill="#46CEBC" points="1647.5,827.5 1657.5,820.0 1667.5,825.0 1675.0,837.5 1670.0,847.5 1655.0,851.2 1647.5,845.0"/>
<polygon fill="#46CEBC" points="1620.0,855.0 1640.0,852.5 1645.0,862.5 1635.0,870.0 1622.5,867.5"/>
<polygon fill="#B9EAB3" points="1650.0,830.0 1660.0,826.2 1667.5,832.5 1667.5,842.5 1657.5,846.2 1650.0,842.5"/>
<polygon fill="#B9EAB3" points="1622.5,855.0 1637.5,855.0 1637.5,858.8 1622.5,858.8"/>
<polygon fill="#E8F8AF" points="1652.5,835.0 1665.0,835.0 1665.0,840.0 1652.5,840.0"/>
<polygon fill="#0093C5" points="1697.5,787.5 1707.5,780.0 1715.0,792.5 1730.0,805.0 1720.0,812.5 1705.0,810.0 1700.0,797.5"/>
<polygon fill="#00B7C6" points="1700.0,788.8 1707.5,782.5 1712.5,792.5 1705.0,795.0"/>
<polygon fill="#0093C5" points="1757.5,820.0 1768.8,820.0 1763.8,828.8"/>
<polygon fill="#0093C5" points="1771.2,803.8 1781.2,803.8 1776.2,810.0"/>
<polygon fill="#0093C5" points="1792.5,792.5 1805.0,778.8 1817.5,792.5 1817.5,835.0 1805.0,850.0 1795.0,837.5"/>
<polygon fill="#00B7C6" points="1796.2,795.0 1805.0,783.8 1813.8,795.0 1813.8,832.5 1805.0,845.0 1798.8,835.0"/>
<polygon fill="#46CEBC" points="1800.0,800.0 1805.0,792.5 1810.0,800.0 1810.0,830.0 1805.0,837.5 1801.2,830.0"/>
<polygon fill="#B9EAB3" points="1803.0,805.0 1807.0,805.0 1807.0,825.0 1803.0,825.0"/>
<polygon fill="#0093C5" points="1822.5,802.5 1845.0,790.0 1860.0,797.5 1865.0,815.0 1872.5,822.5 1867.5,845.0 1850.0,850.0 1835.0,862.5 1825.0,850.0 1822.5,830.0"/>
<polygon fill="#00B7C6" points="1827.5,805.0 1845.0,795.0 1856.2,800.0 1861.2,817.5 1867.5,825.0 1863.8,840.0 1847.5,845.0 1835.0,855.0 1828.8,845.0 1826.2,830.0"/>
<polygon fill="#46CEBC" points="1832.5,807.5 1845.0,800.0 1853.8,805.0 1857.5,820.0 1850.0,830.0 1840.0,832.5 1835.0,825.0"/>
<polygon fill="#B9EAB3" points="1840.0,803.8 1847.5,805.0 1850.0,812.5 1842.5,810.0"/>
<polygon fill="#0093C5" points="1835.0,872.5 1847.5,860.0 1860.0,872.5 1857.5,892.5 1847.5,902.5 1837.5,892.5"/>
<polygon fill="#00B7C6" points="1838.8,875.0 1847.5,865.0 1856.2,875.0 1853.8,890.0 1847.5,897.5 1841.2,890.0"/>
<polygon fill="#46CEBC" points="1842.5,877.5 1847.5,870.0 1852.5,877.5 1850.0,890.0 1845.0,890.0"/>
<polygon fill="#0093C5" stroke="#0093C5" stroke-width="17.5" stroke-linejoin="round" points="1495.0,880.0 1510.0,867.5 1525.0,877.5 1537.5,867.5 1550.0,880.0 1610.0,880.0 1617.5,890.0 1610.0,902.5 1550.0,905.0 1525.0,910.0 1495.0,902.5"/>
<polygon fill="#00B7C6" stroke="#00B7C6" stroke-width="7.5" stroke-linejoin="round" points="1495.0,880.0 1510.0,867.5 1525.0,877.5 1537.5,867.5 1550.0,880.0 1610.0,880.0 1617.5,890.0 1610.0,902.5 1550.0,905.0 1525.0,910.0 1495.0,902.5"/>
<polygon fill="#46CEBC" points="1495.0,880.0 1510.0,867.5 1525.0,877.5 1537.5,867.5 1550.0,880.0 1610.0,880.0 1617.5,890.0 1610.0,902.5 1550.0,905.0 1525.0,910.0 1495.0,902.5"/>
<polygon fill="#B9EAB3" points="1495.0,885.0 1605.0,886.2 1610.0,892.5 1605.0,898.8 1550.0,900.0 1525.0,902.5 1495.0,895.0"/>
<polygon fill="#E8F8AF" points="1500.0,883.8 1522.5,883.8 1522.5,887.5 1500.0,887.5"/>
<polygon fill="#E8F8AF" points="1525.0,883.8 1550.0,883.8 1550.0,887.5 1525.0,887.5"/>
<polygon fill="#E8F8AF" points="1550.0,891.2 1582.5,891.2 1582.5,896.2 1550.0,896.2"/>
<polygon fill="#E8F8AF" points="1600.0,892.5 1610.0,892.5 1610.0,897.5 1600.0,897.5"/>
<polygon fill="#0093C5" stroke="#0093C5" stroke-width="26.0" stroke-linejoin="round" points="1495.0,802.5 1515.0,800.0 1537.5,787.5 1550.0,800.0 1585.0,795.0 1600.0,800.0 1610.0,805.0 1610.0,820.0 1600.0,817.5 1585.0,812.5 1572.5,820.0 1550.0,810.0 1537.5,820.0 1525.0,827.5 1510.0,817.5 1495.0,827.5"/>
<polygon fill="#00B7C6" stroke="#00B7C6" stroke-width="18.5" stroke-linejoin="round" points="1495.0,802.5 1515.0,800.0 1537.5,787.5 1550.0,800.0 1585.0,795.0 1600.0,800.0 1610.0,805.0 1610.0,820.0 1600.0,817.5 1585.0,812.5 1572.5,820.0 1550.0,810.0 1537.5,820.0 1525.0,827.5 1510.0,817.5 1495.0,827.5"/>
<polygon fill="#46CEBC" stroke="#46CEBC" stroke-width="11.0" stroke-linejoin="round" points="1495.0,802.5 1515.0,800.0 1537.5,787.5 1550.0,800.0 1585.0,795.0 1600.0,800.0 1610.0,805.0 1610.0,820.0 1600.0,817.5 1585.0,812.5 1572.5,820.0 1550.0,810.0 1537.5,820.0 1525.0,827.5 1510.0,817.5 1495.0,827.5"/>
<polygon fill="#B9EAB3" stroke="#B9EAB3" stroke-width="5.0" stroke-linejoin="round" points="1495.0,802.5 1515.0,800.0 1537.5,787.5 1550.0,800.0 1585.0,795.0 1600.0,800.0 1610.0,805.0 1610.0,820.0 1600.0,817.5 1585.0,812.5 1572.5,820.0 1550.0,810.0 1537.5,820.0 1525.0,827.5 1510.0,817.5 1495.0,827.5"/>
<polygon fill="#E8F8AF" points="1495.0,802.5 1515.0,800.0 1537.5,787.5 1550.0,800.0 1585.0,795.0 1600.0,800.0 1610.0,805.0 1610.0,820.0 1600.0,817.5 1585.0,812.5 1572.5,820.0 1550.0,810.0 1537.5,820.0 1525.0,827.5 1510.0,817.5 1495.0,827.5"/>
<polygon fill="#0093C5" stroke="#0093C5" stroke-width="26.0" stroke-linejoin="round" points="1500.0,550.0 1645.0,550.0 1646.2,720.0 1640.0,755.0 1620.0,770.0 1610.0,755.0 1595.0,762.5 1575.0,755.0 1567.5,775.0 1550.0,755.0 1537.5,752.5 1525.0,750.0 1500.0,755.0"/>
<polygon fill="#00B7C6" stroke="#00B7C6" stroke-width="16.0" stroke-linejoin="round" points="1500.0,550.0 1645.0,550.0 1646.2,720.0 1640.0,755.0 1620.0,770.0 1610.0,755.0 1595.0,762.5 1575.0,755.0 1567.5,775.0 1550.0,755.0 1537.5,752.5 1525.0,750.0 1500.0,755.0"/>
<polygon fill="#46CEBC" stroke="#46CEBC" stroke-width="10.0" stroke-linejoin="round" points="1500.0,550.0 1645.0,550.0 1646.2,720.0 1640.0,755.0 1620.0,770.0 1610.0,755.0 1595.0,762.5 1575.0,755.0 1567.5,775.0 1550.0,755.0 1537.5,752.5 1525.0,750.0 1500.0,755.0"/>
<polygon fill="#B9EAB3" stroke="#B9EAB3" stroke-width="5.0" stroke-linejoin="round" points="1500.0,550.0 1645.0,550.0 1646.2,720.0 1640.0,755.0 1620.0,770.0 1610.0,755.0 1595.0,762.5 1575.0,755.0 1567.5,775.0 1550.0,755.0 1537.5,752.5 1525.0,750.0 1500.0,755.0"/>
<polygon fill="#E8F8AF" points="1500.0,550.0 1645.0,550.0 1646.2,720.0 1640.0,755.0 1620.0,770.0 1610.0,755.0 1595.0,762.5 1575.0,755.0 1567.5,775.0 1550.0,755.0 1537.5,752.5 1525.0,750.0 1500.0,755.0"/>
<polygon fill="#FFFFD9" points="1500.0,550.0 1527.5,550.0 1527.5,730.0 1515.0,740.0 1500.0,745.0"/>
<polygon fill="#FFFFD9" points="1553.8,617.5 1575.0,607.5 1585.0,630.0 1586.2,680.0 1582.5,742.5 1572.5,752.5 1562.5,742.5 1557.5,680.0"/>
<polygon fill="#FFFFD9" points="1602.5,617.5 1615.0,612.5 1617.5,680.0 1616.2,730.0 1610.0,750.0 1605.0,740.0 1602.5,680.0"/>
<polygon fill="#B9EAB3" points="1620.0,720.0 1642.5,715.0 1642.5,755.0 1630.0,750.0 1622.5,755.0"/>
<polygon fill="#00B7C6" points="1531.2,550.0 1550.0,550.0 1547.5,630.0 1545.0,755.0 1537.5,755.0 1535.0,655.0"/>
<polygon fill="#0093C5" points="1532.5,550.0 1550.0,550.0 1545.0,605.0 1537.5,610.0"/>
<polygon fill="#0060AC" points="1536.2,587.5 1547.5,590.0 1540.0,602.5"/>
<polygon fill="#46CEBC" points="1586.2,550.0 1602.5,550.0 1600.0,617.5 1597.5,667.5 1595.0,755.0 1590.0,755.0 1588.8,667.5"/>
<polygon fill="#00B7C6" points="1590.0,550.0 1600.0,550.0 1596.2,605.0 1593.8,595.0"/>
<polygon fill="#46CEBC" points="1550.0,550.0 1585.0,550.0 1582.5,595.0 1570.0,607.5 1557.5,600.0"/>
<polygon fill="#00B7C6" points="1976.0,550.0 2295.8,550.0 2295.8,755.0 1976.0,755.0"/>
<polygon fill="#0093C5" points="1900.0,718.8 1932.5,718.8 1942.5,727.5 1960.0,718.8 2015.0,718.8 2025.0,727.5 2040.0,718.8 2060.0,718.8 2072.5,731.2 2132.5,731.2 2145.0,718.8 2155.0,718.8 2167.5,730.0 2187.5,730.0 2200.0,720.0 2242.5,730.0 2272.5,730.0 2285.0,718.8 2295.8,718.8 2295.8,1270.0 1900.0,1270.0"/>
<polygon fill="#0060AC" points="1900.0,756.2 1932.5,756.2 1945.0,770.0 2005.0,770.0 2007.5,797.5 2012.5,797.5 2035.0,787.5 2085.0,795.0 2100.0,787.5 2117.5,795.0 2132.5,795.0 2145.0,778.8 2150.0,795.0 2175.0,805.0 2192.5,820.0 2195.0,840.0 2202.5,840.0 2215.0,830.0 2217.5,855.0 2227.5,865.0 2242.5,842.5 2255.0,855.0 2275.0,835.0 2280.0,805.0 2295.8,797.5 2295.8,850.0 2277.5,855.0 2270.0,890.0 2255.0,875.0 2242.5,887.5 2230.0,905.0 2205.0,880.0 2195.0,855.0 2182.5,865.0 2172.5,837.5 2165.0,837.5 2160.0,872.5 2152.5,855.0 2145.0,832.5 2132.5,852.5 2112.5,855.0 2100.0,837.5 2100.0,855.0 2085.0,852.5 2055.0,817.5 2052.5,855.0 2030.0,832.5 2012.5,837.5 2010.0,855.0 2002.5,890.0 1992.5,885.0 1992.5,870.0 1965.0,852.5 1955.0,852.5 1935.0,867.5 1920.0,867.5 1900.0,857.5"/>
<polygon fill="#0093C5" points="1900.0,782.5 1910.0,777.5 1932.5,792.5 1947.5,777.5 1987.5,777.5 2005.0,792.5 2007.5,812.5 1982.5,805.0 1960.0,798.8 1937.5,813.8 1915.0,813.8 1900.0,805.0"/>
<polygon fill="#00B7C6" points="1940.0,788.8 1946.2,785.0 1952.5,788.8 1946.2,792.5"/>
<polygon fill="#00B7C6" points="1966.2,788.8 1973.8,782.5 1981.2,788.8 1973.8,795.0"/>
<polygon fill="#00B7C6" points="1900.0,785.0 1907.5,785.0 1910.0,792.5 1900.0,792.5"/>
<polygon fill="#00B7C6" points="2023.8,771.2 2030.0,766.2 2036.2,771.2 2030.0,776.2"/>
<polygon fill="#00B7C6" points="2092.5,771.2 2100.0,762.5 2107.5,771.2 2100.0,780.0"/>
<polygon fill="#00B7C6" points="2151.2,788.8 2158.8,785.0 2166.2,788.8 2158.8,792.5"/>
<polygon fill="#00B7C6" points="1900.0,887.5 1925.0,906.2 1935.0,895.0 1975.0,887.5 1990.0,905.0 2002.5,921.2 2010.0,900.0 2017.5,857.5 2030.0,850.0 2040.0,857.5 2050.0,880.0 2045.0,930.0 2047.5,942.5 2035.0,965.0 2035.0,990.0 2020.0,1005.0 2010.0,990.0 2000.0,980.0 1987.5,990.0 1975.0,985.0 1965.0,992.5 1960.0,955.0 1950.0,975.0 1940.0,1017.5 1935.0,1056.0 1900.0,1056.0"/>
<polygon fill="#46CEBC" points="2010.0,935.0 2015.0,902.5 2030.0,902.5 2031.2,930.0 2017.5,950.0"/>
<polygon fill="#46CEBC" points="1970.0,995.0 1977.5,985.0 1986.2,995.0 1980.0,1010.0 1972.5,1005.0"/>
<polygon fill="#46CEBC" points="1990.0,990.0 2000.0,980.0 2010.0,990.0 2005.0,1030.0 2000.0,1056.0 1992.5,1056.0 1995.0,1017.5"/>
<polygon fill="#00B7C6" points="2060.0,940.0 2070.0,867.5 2072.5,862.5 2080.0,870.0 2085.0,887.5 2107.5,875.0 2120.0,880.0 2130.0,882.5 2140.0,855.0 2145.0,857.5 2150.0,905.0 2147.5,1000.0 2140.0,995.0 2135.0,940.0 2125.0,955.0 2117.5,990.0 2105.0,980.0 2105.0,950.0 2092.5,960.0 2075.0,972.5 2065.0,960.0"/>
<polygon fill="#00B7C6" points="2162.5,875.0 2172.5,850.0 2177.5,860.0 2185.0,880.0 2192.5,895.0 2190.0,990.0 2180.0,1005.0 2175.0,980.0 2167.5,970.0 2165.0,930.0"/>
<polygon fill="#46CEBC" points="2170.0,887.5 2175.0,887.5 2175.0,930.0 2171.2,930.0"/>
<polygon fill="#00B7C6" points="2050.0,995.0 2060.0,992.5 2065.0,1002.5 2060.0,1010.0 2052.5,1005.0"/>
<polygon fill="#0060AC" points="1940.0,1056.0 1950.0,1025.0 1960.0,1017.5 1965.0,1030.0 1962.5,1056.0"/>
<polygon fill="#0060AC" points="2012.5,1056.0 2030.0,1020.0 2042.5,1002.5 2055.0,1012.5 2075.0,1020.0 2090.0,1017.5 2100.0,1002.5 2112.5,1015.0 2112.5,1032.5 2127.5,1017.5 2140.0,1025.0 2160.0,1042.5 2162.5,1010.0 2177.5,1012.5 2180.0,1030.0 2175.0,1056.0"/>
<polygon fill="#0060AC" points="2152.5,855.0 2160.0,872.5 2165.0,930.0 2165.0,990.0 2157.5,995.0 2152.5,985.0 2150.0,905.0"/>
<polygon fill="#0060AC" points="2052.5,855.0 2055.0,817.5 2062.5,830.0 2063.8,880.0 2067.5,925.0 2060.0,930.0 2055.0,915.0"/>
<polygon fill="#0060AC" points="2202.5,840.0 2215.0,830.0 2217.5,855.0 2227.5,865.0 2230.0,905.0 2232.5,1056.0 2200.0,1056.0 2210.0,960.0 2200.0,950.0 2200.0,915.0 2207.5,910.0 2205.0,880.0"/>
<polygon fill="#00B7C6" points="2232.5,905.0 2242.5,887.5 2255.0,875.0 2270.0,890.0 2277.5,855.0 2295.8,850.0 2295.8,1056.0 2233.8,1056.0"/>
<polygon fill="#46CEBC" points="2235.0,940.0 2240.0,930.0 2255.0,950.0 2270.0,920.0 2285.0,902.5 2295.8,910.0 2295.8,1056.0 2235.0,1056.0"/>
<polygon fill="#B9EAB3" points="2237.5,980.0 2242.5,940.0 2250.0,965.0 2262.5,975.0 2276.2,1000.0 2275.0,1017.5 2272.5,1030.0 2265.0,1010.0 2252.5,1012.5 2247.5,1030.0 2245.0,1056.0 2237.5,1056.0"/>
<polygon fill="#0093C5" points="2250.0,905.0 2260.0,905.0 2262.5,930.0 2255.0,942.5 2250.0,930.0"/>
<polygon fill="#0060AC" points="2252.5,907.5 2260.0,907.5 2260.0,930.0 2255.0,937.5"/>
<polygon fill="#0093C5" points="2280.0,992.5 2295.8,980.0 2295.8,1056.0 2285.0,1056.0"/>
<polygon fill="#00B7C6" points="2217.5,820.0 2235.0,820.0 2237.5,840.0 2227.5,852.5 2217.5,842.5"/>
<polygon fill="#46CEBC" points="2221.2,821.2 2232.5,821.2 2233.8,837.5 2227.5,845.0 2222.5,837.5"/>
<polygon fill="#B9EAB3" points="2225.0,821.2 2229.5,821.2 2229.5,837.5 2226.2,837.5"/>
<polygon fill="#0093C5" points="2216.2,886.2 2223.8,880.0 2231.2,886.2 2223.8,892.5"/>
<polygon fill="#00B7C6" points="2260.0,821.2 2267.5,816.2 2275.0,821.2 2267.5,826.2"/>
<polygon fill="#0093C5" points="2187.5,590.0 2200.0,550.0 2242.5,550.0 2241.2,705.0 2237.5,805.0 2225.0,805.0 2212.5,817.5 2202.5,805.0 2200.0,687.5 2190.0,680.0"/>
<polygon fill="#0060AC" points="2196.2,590.0 2200.0,590.0 2200.0,660.0 2196.2,660.0"/>
<polygon fill="#0060AC" points="2225.0,550.0 2236.2,550.0 2235.0,692.5 2237.5,800.0 2225.0,802.5 2226.2,705.0"/>
<polygon fill="#183096" points="2226.2,595.0 2232.5,595.0 2232.5,635.0 2227.5,635.0"/>
<polygon fill="#00B7C6" points="2201.2,550.0 2225.0,550.0 2223.8,730.0 2222.5,805.0 2212.5,815.0 2203.8,805.0 2202.5,705.0"/>
<polygon fill="#46CEBC" points="2203.8,550.0 2222.5,550.0 2221.2,730.0 2220.0,800.0 2212.5,810.0 2206.2,800.0 2205.0,705.0"/>
<polygon fill="#B9EAB3" points="2208.8,550.0 2218.0,550.0 2218.8,730.0 2217.5,795.0 2213.8,800.0 2210.0,795.0"/>
<polygon fill="#E8F8AF" points="2206.2,750.0 2213.8,730.0 2221.2,732.5 2221.2,750.0 2212.5,755.0"/>
</g>
<clipPath id="r3"><rect x="0" y="1050" width="2421" height="300"/></clipPath><g clip-path="url(#r3)">
<polygon fill="#46CEBC" points="300.0,1030.0 776.0,1030.0 776.0,1280.0 300.0,1280.0"/>
<polygon fill="#B9EAB3" points="313.8,1010.0 375.0,1010.0 367.5,1055.0 365.0,1085.0 322.5,1086.2 313.8,1088.8"/>
<polygon fill="#B9EAB3" points="420.0,1010.0 432.5,1010.0 435.0,1065.0 450.0,1087.5 422.5,1087.5"/>
<polygon fill="#B9EAB3" points="507.5,1010.0 515.0,1010.0 513.8,1085.0 508.8,1082.5"/>
<polygon fill="#B9EAB3" points="537.5,1010.0 597.5,1010.0 600.0,1055.0 597.5,1087.5 570.0,1087.5 560.0,1072.5 552.5,1068.8 542.5,1085.0 537.5,1080.0"/>
<polygon fill="#B9EAB3" points="635.0,1010.0 650.0,1010.0 665.0,1062.5 675.0,1047.5 680.0,1010.0 710.0,1010.0 700.0,1060.0 700.0,1087.5 635.0,1087.5"/>
<polygon fill="#00B7C6" points="375.0,1090.0 382.5,1065.0 387.5,1010.0 412.5,1010.0 412.5,1140.0 410.0,1215.0 402.5,1235.0 392.5,1240.0 375.0,1225.0 375.0,1165.0"/>
<polygon fill="#0093C5" points="382.5,1090.0 392.5,1010.0 405.0,1010.0 407.5,1115.0 405.0,1190.0 402.5,1230.0 395.0,1232.5 385.0,1190.0"/>
<polygon fill="#0060AC" points="396.2,1010.0 402.5,1010.0 402.5,1100.0 396.2,1100.0"/>
<polygon fill="#0060AC" points="396.2,1147.5 402.5,1147.5 402.5,1215.0 396.2,1215.0"/>
<polygon fill="#00B7C6" points="432.5,1010.0 507.5,1010.0 502.5,1097.5 495.0,1090.0 487.5,1080.0 477.5,1090.0 472.5,1122.5 462.5,1120.0 470.0,1097.5 460.0,1085.0 450.0,1055.0"/>
<polygon fill="#00B7C6" points="600.0,1010.0 627.5,1010.0 625.0,1102.5 626.2,1120.0 602.5,1120.0 610.0,1105.0 607.5,1090.0 600.0,1055.0"/>
<polygon fill="#00B7C6" points="463.8,1133.8 475.0,1133.8 472.5,1150.0 470.0,1180.0 455.0,1170.0 462.5,1160.0 467.5,1145.0"/>
<polygon fill="#00B7C6" points="417.5,1195.0 425.0,1162.5 431.2,1180.0 437.5,1195.0 437.5,1215.0 430.0,1240.0 425.0,1247.5 420.0,1240.0"/>
<polygon fill="#00B7C6" points="442.5,1215.0 455.0,1182.5 465.0,1190.0 460.0,1215.0 465.0,1230.0 455.0,1252.5 445.0,1240.0"/>
<polygon fill="#0093C5" points="447.5,1215.0 455.0,1207.5 460.0,1215.0 460.0,1225.0 452.5,1230.0"/>
<polygon fill="#0060AC" points="453.0,1210.0 457.5,1210.0 457.5,1225.0 453.0,1225.0"/>
<polygon fill="#00B7C6" points="345.0,1220.0 356.2,1203.8 367.5,1220.0 356.2,1236.2"/>
<polygon fill="#00B7C6" points="326.2,1218.8 332.5,1218.8 332.5,1225.0 326.2,1225.0"/>
<polygon fill="#00B7C6" points="517.5,1010.0 535.0,1010.0 532.5,1090.0 540.0,1140.0 552.5,1160.0 562.5,1180.0 568.8,1190.0 568.8,1235.0 540.0,1257.5 540.0,1268.0 505.0,1268.0 500.0,1245.0 500.0,1152.5 512.5,1115.0"/>
<polygon fill="#0093C5" points="520.0,1010.0 532.5,1010.0 530.0,1090.0 535.0,1145.0 537.5,1180.0 550.0,1202.5 555.0,1215.0 540.0,1232.5 535.0,1255.0 525.0,1260.0 512.5,1255.0 507.5,1215.0 507.5,1170.0 517.5,1140.0 517.5,1100.0"/>
<polygon fill="#0060AC" points="512.5,1167.5 525.0,1180.0 542.5,1205.0 537.5,1220.0 535.0,1232.5 525.0,1235.0 512.5,1247.5"/>
<polygon fill="#0060AC" points="523.8,1100.0 528.0,1100.0 528.0,1142.5 523.8,1142.5"/>
<polygon fill="#00B7C6" points="635.0,1195.0 650.0,1178.8 655.0,1200.0 662.5,1215.0 655.0,1235.0 645.0,1240.0 637.5,1230.0"/>
<polygon fill="#00B7C6" points="672.5,1215.0 680.0,1185.0 710.0,1180.0 712.5,1240.0 700.0,1255.0 690.0,1240.0 675.0,1230.0"/>
<polygon fill="#00B7C6" points="710.0,1010.0 725.0,1010.0 715.0,1070.0 710.0,1140.0 705.0,1170.0 710.0,1195.0 712.5,1240.0 720.0,1280.0 776.0,1280.0 776.0,1010.0"/>
<polygon fill="#0093C5" points="720.0,1010.0 776.0,1010.0 776.0,1280.0 725.0,1280.0 722.5,1247.5 710.0,1215.0 710.0,1195.0 725.0,1187.5 722.5,1140.0 717.5,1070.0"/>
<polygon fill="#0060AC" points="720.0,1070.0 757.5,1065.0 767.5,1090.0 750.0,1105.0 737.5,1135.0 722.5,1145.0"/>
<polygon fill="#0060AC" points="725.0,1190.0 737.5,1180.0 755.0,1182.5 757.5,1280.0 735.0,1280.0 722.5,1245.0 730.0,1215.0"/>
<polygon fill="#183096" points="757.5,1010.0 776.0,1010.0 776.0,1072.5 765.0,1077.5"/>
<polygon fill="#00B7C6" points="752.5,1145.0 767.5,1115.0 776.0,1110.0 776.0,1165.0 770.0,1170.0 762.5,1190.0 757.5,1180.0"/>
<polygon fill="#B9EAB3" points="492.5,1181.2 498.8,1181.2 498.8,1187.5 492.5,1187.5"/>
<polygon fill="#B9EAB3" points="578.8,1181.2 587.5,1181.2 587.5,1190.0 578.8,1190.0"/>
<polygon fill="#B9EAB3" points="601.2,1182.5 612.5,1177.5 628.8,1182.5 628.8,1190.0 601.2,1190.0"/>
<polygon fill="#B9EAB3" points="582.5,1193.8 585.0,1193.8 585.0,1200.0 582.5,1200.0"/>
<polygon fill="#B9EAB3" points="617.0,1193.8 622.5,1193.8 622.5,1197.0 617.0,1197.0"/>
<polygon fill="#B9EAB3" points="595.0,1257.5 605.0,1255.0 607.5,1230.0 625.0,1230.0 626.2,1260.0 595.0,1261.2"/>
<polygon fill="#B9EAB3" points="466.2,1203.0 472.5,1203.0 472.5,1206.2 466.2,1206.2"/>
<polygon fill="#B9EAB3" points="763.8,1181.2 770.0,1181.2 770.0,1190.0 763.8,1190.0"/>
<polygon fill="#0093C5" points="775.0,1030.0 987.5,1030.0 987.5,1280.0 775.0,1280.0"/>
<polygon fill="#00B7C6" points="985.0,1030.0 1176.0,1030.0 1176.0,1190.0 985.0,1190.0"/>
<polygon fill="#0060AC" points="720.0,1070.0 757.5,1067.5 770.0,1080.0 770.0,1090.0 755.0,1105.0 750.0,1127.5 735.0,1130.0 732.5,1140.0 722.5,1145.0"/>
<polygon fill="#183096" points="757.5,1010.0 770.0,1010.0 772.5,1077.5 762.5,1077.5"/>
<polygon fill="#0060AC" points="725.0,1190.0 735.0,1181.2 753.8,1181.2 755.0,1280.0 732.5,1280.0 730.0,1240.0 722.5,1230.0 727.5,1210.0"/>
<polygon fill="#00B7C6" points="750.0,1147.5 765.0,1115.0 782.5,1080.0 790.0,1082.5 787.5,1115.0 785.0,1145.0 775.0,1190.0 770.0,1215.0 765.0,1240.0 757.5,1265.0 753.8,1268.0 753.8,1190.0"/>
<polygon fill="#46CEBC" points="762.5,1165.0 775.0,1115.0 782.5,1102.5 782.5,1127.5 775.0,1165.0 770.0,1202.5 766.2,1235.0 763.8,1215.0"/>
<polygon fill="#B9EAB3" points="763.8,1181.2 770.0,1181.2 770.0,1190.0 763.8,1190.0"/>
<polygon fill="#00B7C6" points="805.0,1010.0 830.0,1010.0 832.5,1065.0 840.0,1080.0 830.0,1090.0 827.5,1140.0 842.5,1157.5 830.0,1170.0 825.0,1190.0 820.0,1195.0 815.0,1165.0 805.0,1157.5 812.5,1145.0 817.5,1115.0 815.0,1065.0"/>
<polygon fill="#46CEBC" points="817.5,1010.0 825.0,1010.0 827.5,1090.0 822.5,1105.0 820.0,1065.0"/>
<polygon fill="#0060AC" points="777.5,1220.0 792.5,1212.5 807.5,1215.0 812.5,1235.0 800.0,1240.0 795.0,1252.5 780.0,1255.0 775.0,1240.0"/>
<polygon fill="#183096" points="792.5,1217.5 805.0,1215.0 807.5,1230.0 800.0,1235.0"/>
<polygon fill="#0060AC" points="792.5,1117.5 807.5,1117.5 800.0,1135.0 792.5,1137.5"/>
<polygon fill="#0060AC" points="805.0,1070.0 808.0,1070.0 808.0,1107.5 805.0,1107.5"/>
<polygon fill="#0060AC" points="800.0,1182.5 810.0,1182.5 812.5,1197.5 802.5,1200.0"/>
<polygon fill="#00B7C6" points="780.0,1255.0 800.0,1240.0 820.0,1235.0 842.5,1230.0 835.0,1247.5 832.5,1280.0 777.5,1280.0"/>
<polygon fill="#46CEBC" points="787.5,1250.0 797.5,1247.5 795.0,1257.5 787.5,1257.5"/>
<polygon fill="#46CEBC" points="815.0,1247.5 825.0,1242.5 827.5,1260.0 820.0,1262.5"/>
<polygon fill="#0060AC" points="842.5,1065.0 867.5,1065.0 870.0,1010.0 902.5,1010.0 903.8,1065.0 932.5,1066.2 932.5,1138.8 902.5,1142.5 866.2,1142.5 850.0,1127.5 840.0,1107.5 837.5,1080.0"/>
<polygon fill="#0060AC" points="827.5,1190.0 832.5,1181.2 935.0,1181.2 937.5,1215.0 947.5,1225.0 950.0,1280.0 835.0,1280.0 835.0,1220.0"/>
<polygon fill="#183096" points="834.5,1190.0 837.0,1190.0 837.0,1218.8 834.5,1218.8"/>
<polygon fill="#0060AC" points="903.8,1158.8 906.2,1158.8 906.2,1172.5 903.8,1172.5"/>
<polygon fill="#0060AC" points="901.2,1172.5 910.0,1172.5 910.0,1174.5 901.2,1174.5"/>
<polygon fill="#00B7C6" points="940.0,1065.0 942.5,1010.0 987.5,1010.0 985.0,1065.0 975.0,1115.0 982.5,1137.5 975.0,1157.5 960.0,1170.0 965.0,1190.0 985.0,1200.0 985.0,1220.0 960.0,1212.5 952.5,1205.0 947.5,1225.0 937.5,1215.0 935.0,1181.2 932.5,1150.0 940.0,1115.0"/>
<polygon fill="#46CEBC" points="945.0,1085.0 948.8,1085.0 952.5,1140.0 955.0,1165.0 955.0,1195.0 947.5,1210.0 942.5,1200.0 940.0,1180.0 935.0,1150.0 943.8,1135.0"/>
<polygon fill="#0093C5" points="957.5,1077.5 965.0,1075.0 965.0,1090.0 970.0,1100.0 960.0,1102.5"/>
<polygon fill="#0093C5" points="965.0,1122.5 977.5,1122.5 982.5,1137.5 977.5,1155.0 965.0,1150.0"/>
<polygon fill="#0093C5" points="955.0,1170.0 965.0,1167.5 975.0,1190.0 987.5,1200.0 985.0,1230.0 942.5,1230.0 957.5,1215.0 962.5,1202.5"/>
<polygon fill="#46CEBC" points="965.0,1010.0 987.5,1010.0 985.0,1057.5 975.0,1062.5 967.5,1055.0"/>
<polygon fill="#B9EAB3" points="971.2,1010.0 981.2,1010.0 980.0,1052.5 975.0,1052.5"/>
<polygon fill="#46CEBC" points="1032.5,1157.5 1040.0,1122.5 1100.0,1115.0 1125.0,1117.5 1155.0,1115.0 1176.0,1115.0 1176.0,1177.5 1150.0,1178.8 1095.0,1177.5 1045.0,1170.0"/>
<polygon fill="#0093C5" points="975.0,1186.2 990.0,1180.0 1090.0,1181.2 1145.0,1183.8 1176.0,1183.8 1176.0,1280.0 987.5,1280.0"/>
<polygon fill="#0060AC" points="975.0,1190.0 990.0,1183.8 1090.0,1185.0 1145.0,1187.5 1176.0,1187.5 1176.0,1280.0 987.5,1280.0 987.5,1247.5 985.0,1220.0 987.5,1202.5"/>
<polygon fill="#0093C5" points="947.5,1252.5 957.5,1240.0 975.0,1238.8 987.5,1247.5 987.5,1280.0 950.0,1280.0"/>
<polygon fill="#00B7C6" points="957.5,1250.0 967.5,1243.8 977.5,1250.0 975.0,1265.0 960.0,1262.5"/>
<polygon fill="#00B7C6" points="987.5,1160.0 992.5,1147.5 1002.5,1160.0"/>
<polygon fill="#00B7C6" points="1175.0,1030.0 1576.0,1030.0 1576.0,1280.0 1175.0,1280.0"/>
<polygon fill="#46CEBC" points="1100.0,1115.0 1115.0,1113.8 1127.5,1120.0 1147.5,1120.0 1160.0,1113.8 1172.5,1115.0 1187.5,1130.0 1190.0,1182.5 1175.0,1177.5 1145.0,1171.2 1127.5,1171.2 1125.0,1177.5 1100.0,1178.8"/>
<polygon fill="#46CEBC" points="1225.0,1122.5 1250.0,1113.8 1267.5,1120.0 1282.5,1120.0 1295.0,1112.5 1297.5,1010.0 1452.5,1010.0 1457.5,1115.0 1457.5,1180.0 1370.0,1180.0 1368.8,1177.5 1285.0,1177.5 1275.0,1171.2 1267.5,1177.5 1242.5,1177.5 1230.0,1172.5 1226.2,1160.0"/>
<polygon fill="#46CEBC" points="1255.0,1062.5 1258.0,1062.5 1258.0,1115.0 1255.0,1115.0"/>
<polygon fill="#0093C5" points="1175.0,1010.0 1210.0,1010.0 1210.0,1077.5 1222.5,1105.0 1220.0,1140.0 1217.5,1165.0 1220.0,1182.5 1200.0,1182.5 1197.5,1140.0 1187.5,1122.5 1185.0,1090.0 1177.5,1077.5"/>
<polygon fill="#0060AC" points="1182.5,1010.0 1200.0,1010.0 1202.5,1065.0 1205.0,1100.0 1213.8,1106.2 1207.5,1122.5 1198.8,1125.0 1195.0,1100.0 1185.0,1082.5 1180.0,1065.0"/>
<polygon fill="#183096" points="1185.0,1010.0 1192.5,1010.0 1193.8,1057.5 1192.5,1077.5 1186.2,1075.0 1182.5,1065.0"/>
<polygon fill="#0093C5" points="1100.0,1182.5 1130.0,1180.0 1172.5,1183.8 1220.0,1180.0 1275.0,1181.2 1462.5,1182.5 1576.0,1175.0 1576.0,1280.0 1100.0,1280.0"/>
<polygon fill="#0060AC" points="1100.0,1186.2 1130.0,1183.8 1172.5,1187.5 1172.5,1280.0 1100.0,1280.0"/>
<polygon fill="#0060AC" points="1201.2,1170.0 1220.0,1183.8 1275.0,1185.0 1462.5,1186.2 1576.0,1177.5 1576.0,1280.0 1201.2,1280.0"/>
<polygon fill="#0093C5" points="1172.5,1187.5 1200.0,1187.5 1201.2,1280.0 1172.5,1280.0"/>
<polygon fill="#00B7C6" points="1177.5,1187.5 1195.0,1187.5 1197.5,1240.0 1192.5,1280.0 1180.0,1280.0 1182.5,1240.0"/>
<polygon fill="#46CEBC" points="1185.5,1182.5 1188.8,1182.5 1188.8,1237.5 1185.5,1237.5"/>
<polygon fill="#0060AC" points="1197.5,1125.0 1201.2,1125.0 1201.2,1190.0 1197.5,1190.0"/>
<polygon fill="#0093C5" points="1460.0,1010.0 1576.0,1010.0 1576.0,1145.0 1460.0,1145.0"/>
<polygon fill="#0060AC" points="1465.0,1010.0 1576.0,1010.0 1576.0,1142.5 1467.5,1142.5 1466.2,1132.5 1480.0,1120.0 1545.0,1117.5 1535.0,1126.2 1522.5,1120.0 1480.0,1120.0 1467.5,1115.0"/>
<polygon fill="#00B7C6" points="1460.0,1143.0 1576.0,1143.0 1576.0,1152.5 1460.0,1152.5"/>
<polygon fill="#0093C5" points="1462.5,1157.5 1482.5,1152.5 1525.0,1155.0 1552.5,1152.5 1576.0,1152.5 1576.0,1180.0 1552.5,1178.8 1462.5,1186.2"/>
<polygon fill="#183096" points="1552.5,1190.0 1576.0,1190.0 1576.0,1280.0 1552.5,1280.0"/>
<polygon fill="#0060AC" points="1575.0,1030.0 1976.0,1030.0 1976.0,1280.0 1575.0,1280.0"/>
<polygon fill="#0093C5" points="1500.0,1145.0 1650.0,1145.0 1672.5,1147.5 1672.5,1157.5 1650.0,1167.5 1647.5,1180.0 1552.5,1178.8 1500.0,1181.2"/>
<polygon fill="#00B7C6" points="1500.0,1146.2 1647.5,1146.2 1650.0,1151.2 1552.5,1152.5 1525.0,1155.0 1500.0,1152.5"/>
<polygon fill="#0093C5" points="1500.0,1117.5 1545.0,1117.5 1545.0,1120.5 1500.0,1120.5"/>
<polygon fill="#0093C5" points="1590.0,1117.5 1597.5,1117.5 1597.5,1120.5 1590.0,1120.5"/>
<polygon fill="#0093C5" points="1618.8,1117.5 1641.2,1117.5 1641.2,1120.5 1618.8,1120.5"/>
<polygon fill="#183096" points="1552.5,1190.0 1580.5,1190.0 1580.5,1280.0 1552.5,1280.0"/>
<polygon fill="#183096" points="1606.2,1190.0 1609.2,1190.0 1609.2,1280.0 1606.2,1280.0"/>
<polygon fill="#183096" points="1645.0,1190.0 1663.8,1187.5 1680.0,1202.5 1690.0,1212.5 1680.0,1225.0 1680.0,1280.0 1645.0,1280.0"/>
<polygon fill="#0093C5" points="1680.0,1070.0 1685.0,1010.0 1702.5,1010.0 1705.0,1065.0 1705.0,1190.0 1700.0,1195.0 1715.0,1197.5 1715.0,1217.5 1700.0,1217.5 1695.0,1202.5 1672.5,1197.5 1665.0,1175.0 1680.0,1170.0 1682.5,1115.0"/>
<polygon fill="#00B7C6" points="1686.2,1065.0 1690.0,1010.0 1698.8,1010.0 1700.0,1090.0 1698.8,1165.0 1692.5,1177.5 1687.5,1165.0 1685.0,1115.0"/>
<polygon fill="#46CEBC" points="1690.0,1065.0 1693.0,1010.0 1696.2,1010.0 1696.2,1102.5 1692.5,1102.5"/>
<polygon fill="#0093C5" points="1750.0,1050.0 1752.5,1010.0 1777.5,1010.0 1770.0,1077.5 1765.0,1100.0 1767.5,1140.0 1765.0,1180.0 1762.5,1190.0 1767.5,1235.0 1782.5,1245.0 1780.0,1260.0 1770.0,1280.0 1757.5,1280.0 1757.5,1250.0 1762.5,1240.0 1760.0,1190.0 1750.0,1175.0 1735.0,1165.0 1725.0,1150.0 1732.5,1145.0 1750.0,1147.5 1755.0,1127.5 1750.0,1117.5 1760.0,1100.0 1752.5,1065.0"/>
<polygon fill="#00B7C6" points="1757.5,1010.0 1770.0,1010.0 1765.0,1065.0 1760.0,1055.0"/>
<polygon fill="#00B7C6" points="1733.8,1146.2 1750.0,1146.2 1750.0,1152.5 1733.8,1152.5"/>
<polygon fill="#0093C5" points="1807.5,1010.0 1832.5,1010.0 1832.5,1140.0 1850.0,1145.0 1850.0,1152.5 1832.5,1155.0 1830.0,1280.0 1810.0,1280.0 1810.0,1180.0 1792.5,1180.0 1782.5,1147.5 1810.0,1145.0"/>
<polygon fill="#00B7C6" points="1811.2,1010.0 1827.5,1010.0 1826.2,1140.0 1832.5,1150.0 1825.0,1190.0 1825.0,1280.0 1813.8,1280.0 1812.5,1190.0 1807.5,1150.0 1812.5,1140.0"/>
<polygon fill="#46CEBC" points="1815.5,1010.0 1822.5,1010.0 1822.5,1140.0 1825.0,1150.0 1821.2,1190.0 1821.2,1280.0 1817.0,1280.0 1816.2,1165.0"/>
<polygon fill="#B9EAB3" points="1817.0,1053.8 1820.0,1053.8 1820.0,1087.5 1817.0,1087.5"/>
<polygon fill="#0093C5" points="1862.5,1065.0 1867.5,1010.0 1890.0,1010.0 1885.0,1065.0 1885.0,1115.0 1882.5,1165.0 1885.0,1215.0 1880.0,1280.0 1870.0,1280.0 1870.0,1215.0 1865.0,1165.0 1862.5,1115.0"/>
<polygon fill="#00B7C6" points="1870.0,1010.0 1882.5,1010.0 1880.0,1115.0 1878.8,1200.0 1875.0,1215.0 1871.2,1165.0 1870.0,1090.0"/>
<polygon fill="#46CEBC" points="1872.5,1010.0 1878.8,1010.0 1877.5,1140.0 1875.0,1190.0 1873.8,1115.0"/>
<polygon fill="#B9EAB3" points="1874.5,1066.2 1877.5,1066.2 1877.5,1087.5 1874.5,1087.5"/>
<polygon fill="#183096" points="1852.5,1190.0 1862.0,1190.0 1862.0,1280.0 1852.5,1280.0"/>
<polygon fill="#0093C5" points="1890.0,1010.0 1976.0,1010.0 1976.0,1280.0 1900.0,1280.0 1910.0,1255.0 1915.0,1200.0 1900.0,1180.0 1912.5,1140.0 1912.5,1100.0 1897.5,1085.0 1897.5,1062.5 1890.0,1060.0"/>
<polygon fill="#00B7C6" points="1897.5,1010.0 1945.0,1010.0 1935.0,1055.0 1915.0,1060.0 1900.0,1050.0"/>
<polygon fill="#0060AC" points="1942.5,1010.0 1965.0,1010.0 1970.0,1085.0 1965.0,1140.0 1970.0,1222.5 1967.5,1280.0 1935.0,1280.0 1932.5,1240.0 1940.0,1215.0 1935.0,1140.0 1935.0,1080.0"/>
<polygon fill="#00B7C6" points="1920.0,1160.0 1935.0,1155.0 1936.2,1202.5 1932.5,1220.0 1925.0,1210.0 1922.5,1180.0"/>
<polygon fill="#00B7C6" points="1965.0,1010.0 1976.0,1010.0 1976.0,1090.0 1970.0,1082.5"/>
<polygon fill="#00B7C6" points="1965.0,1140.0 1976.0,1135.0 1976.0,1227.5 1967.5,1215.0"/>
<polygon fill="#0060AC" points="1975.0,1030.0 2295.8,1030.0 2295.8,1280.0 1975.0,1280.0"/>
<polygon fill="#0093C5" points="1900.0,1030.0 2015.0,1030.0 2015.0,1280.0 1900.0,1280.0"/>
<polygon fill="#0060AC" points="1935.0,1010.0 1965.0,1010.0 1970.0,1085.0 1965.0,1140.0 1972.5,1155.0 1967.5,1215.0 1967.5,1280.0 1935.0,1280.0 1932.5,1240.0 1940.0,1195.0 1932.5,1140.0 1937.5,1090.0"/>
<polygon fill="#0060AC" points="1900.0,1090.0 1912.5,1097.5 1912.5,1140.0 1905.0,1160.0 1910.0,1190.0 1915.0,1202.5 1912.5,1240.0 1900.0,1252.5"/>
<polygon fill="#00B7C6" points="1900.0,1010.0 1945.0,1010.0 1937.5,1055.0 1925.0,1057.5 1910.0,1055.0"/>
<polygon fill="#00B7C6" points="1970.0,1010.0 2010.0,1010.0 2007.5,1090.0 2010.0,1165.0 2007.5,1260.0 1997.5,1260.0 1995.0,1215.0 1975.0,1202.5 1970.0,1165.0 1987.5,1140.0 1995.0,1115.0 1995.0,1065.0 1985.0,1062.5 1975.0,1067.5"/>
<polygon fill="#46CEBC" points="1996.2,1010.0 2005.0,1010.0 2005.0,1065.0 2000.0,1070.0"/>
<polygon fill="#46CEBC" points="2000.0,1117.5 2005.0,1120.0 2005.0,1180.0 2000.0,1190.0 1995.0,1165.0"/>
<polygon fill="#46CEBC" points="2000.0,1200.0 2005.0,1215.0 2005.0,1235.0 2000.0,1235.0"/>
<polygon fill="#00B7C6" points="1920.0,1160.0 1935.0,1155.0 1935.0,1215.0 1925.0,1212.5 1922.5,1180.0"/>
<polygon fill="#0093C5" points="2037.5,1117.5 2050.0,1113.8 2053.8,1140.0 2066.2,1147.5 2062.5,1170.0 2055.0,1177.5 2040.0,1175.0 2037.5,1140.0"/>
<polygon fill="#0093C5" points="2092.5,1105.0 2107.5,1105.0 2107.5,1157.5 2092.5,1157.5 2095.0,1130.0"/>
<polygon fill="#0093C5" points="2036.8,1197.5 2043.8,1183.8 2050.8,1197.5 2043.8,1211.2"/>
<polygon fill="#0093C5" points="2150.0,1145.0 2170.0,1142.5 2182.5,1147.5 2200.0,1142.5 2230.0,1142.5 2245.0,1157.5 2245.0,1177.5 2200.0,1177.5 2185.0,1187.5 2170.0,1180.0 2155.0,1175.0 2152.5,1160.0"/>
<polygon fill="#0093C5" points="2162.5,1092.5 2170.0,1087.5 2177.5,1092.5 2175.0,1102.5 2170.0,1107.5 2180.0,1115.0 2180.0,1125.0 2170.0,1130.0 2160.0,1125.0 2160.0,1115.0 2167.5,1107.5 2163.8,1102.5"/>
<polygon fill="#00B7C6" points="2165.8,1121.2 2171.2,1116.8 2176.8,1121.2 2171.2,1125.8"/>
<polygon fill="#0093C5" points="2176.2,1192.5 2186.2,1183.8 2196.2,1192.5 2186.2,1201.2"/>
<polygon fill="#00B7C6" points="2180.0,1193.8 2186.2,1188.8 2192.5,1193.8 2186.2,1198.8"/>
<polygon fill="#0093C5" points="2107.5,1215.0 2115.0,1200.0 2135.0,1212.5 2132.5,1227.5 2147.5,1240.0 2152.5,1280.0 2075.0,1280.0 2080.0,1235.0 2092.5,1235.0 2090.0,1247.5 2102.5,1252.5"/>
<polygon fill="#00B7C6" points="2112.5,1235.0 2125.0,1230.0 2140.0,1240.0 2145.0,1280.0 2105.0,1280.0 2107.5,1247.5"/>
<polygon fill="#46CEBC" points="2112.5,1247.5 2125.0,1245.0 2135.0,1255.0 2135.0,1280.0 2112.5,1280.0"/>
<polygon fill="#00B7C6" points="2080.0,1252.5 2090.0,1250.0 2095.0,1260.0 2092.5,1280.0 2077.5,1280.0"/>
<polygon fill="#0093C5" points="2047.5,1235.0 2068.8,1235.0 2068.8,1238.8 2047.5,1238.8"/>
<polygon fill="#0093C5" points="2050.0,1242.5 2066.2,1242.5 2066.2,1247.5 2050.0,1247.5"/>
<polygon fill="#0093C5" points="2178.8,1255.0 2193.8,1255.0 2193.8,1261.2 2178.8,1261.2"/>
<polygon fill="#0093C5" points="2178.8,1010.0 2200.0,1010.0 2200.0,1046.2 2178.8,1046.2"/>
<polygon fill="#0093C5" points="2150.0,1010.0 2162.5,1010.0 2157.5,1050.0"/>
<polygon fill="#0093C5" points="2230.0,1010.0 2295.8,1010.0 2295.8,1280.0 2235.0,1280.0 2237.5,1225.0 2245.0,1215.0 2245.0,1152.5 2232.5,1140.0"/>
<polygon fill="#00B7C6" points="2235.0,1010.0 2285.0,1010.0 2280.0,1065.0 2275.0,1115.0 2267.5,1140.0 2272.5,1190.0 2265.0,1215.0 2267.5,1280.0 2242.5,1280.0 2242.5,1225.0 2250.0,1212.5 2250.0,1160.0 2240.0,1140.0 2235.0,1090.0"/>
<polygon fill="#46CEBC" points="2237.5,1010.0 2280.0,1010.0 2275.0,1065.0 2270.0,1115.0 2262.5,1140.0 2265.0,1190.0 2260.0,1215.0 2260.0,1280.0 2248.8,1280.0 2250.0,1220.0 2255.0,1195.0 2252.5,1160.0 2245.0,1135.0 2240.0,1090.0"/>
<polygon fill="#B9EAB3" points="2238.8,1010.0 2247.5,1010.0 2246.2,1055.0 2242.5,1062.5 2240.0,1052.5"/>
<polygon fill="#B9EAB3" points="2241.2,1088.8 2245.0,1088.8 2245.0,1095.0 2241.2,1095.0"/>
<polygon fill="#0060AC" points="2280.0,1110.0 2292.5,1100.0 2295.8,1100.0 2295.8,1180.0 2290.0,1190.0 2290.0,1215.0 2295.8,1222.5 2295.8,1280.0 2272.5,1280.0 2275.0,1215.0 2280.0,1200.0 2275.0,1165.0"/>
</g>

<polygon fill="#FFFFD9" points="848.1,463.0 867.0,453.6 889.1,450.4 901.7,463.0 901.7,597.0 845.0,597.0"/>
<polygon fill="#FFFFD9" points="1018.3,557.6 1034.1,545.0 1075.0,541.8 1078.2,557.6 1090.8,563.9 1090.8,597.0 1015.2,597.0"/>
<polygon fill="#FFFFD9" points="1122.3,504.0 1141.2,472.5 1153.8,504.0 1163.3,551.3 1163.3,597.0 1122.3,597.0"/>
</g>
</g>
<g fill="#FF0000" shape-rendering="crispEdges">
<rect x="314.0" y="641.8" width="10" height="6.5"/>
<rect x="339.0" y="641.8" width="10" height="6.5"/>
<rect x="364.0" y="641.8" width="10" height="6.5"/>
<rect x="390.0" y="647.8" width="10" height="6.5"/>
<rect x="415.0" y="637.8" width="10" height="6.5"/>
<rect x="441.0" y="641.8" width="10" height="6.5"/>
<rect x="466.0" y="641.8" width="10" height="6.5"/>
<rect x="492.5" y="641.8" width="10" height="6.5"/>
<rect x="517.5" y="646.8" width="10" height="6.5"/>
<rect x="540.0" y="641.8" width="10" height="6.5"/>
<rect x="566.0" y="641.8" width="10" height="6.5"/>
<rect x="591.0" y="641.8" width="10" height="6.5"/>
<rect x="616.0" y="641.8" width="10" height="6.5"/>
<rect x="640.0" y="644.8" width="10" height="6.5"/>
<rect x="665.0" y="644.8" width="10" height="6.5"/>
<rect x="690.0" y="644.8" width="10" height="6.5"/>
<rect x="715.0" y="644.3" width="10" height="6.5"/>
<rect x="737.0" y="635.8" width="10" height="6.5"/>
<rect x="766.0" y="631.8" width="10" height="6.5"/>
<rect x="791.0" y="632.8" width="10" height="6.5"/>
<rect x="815.0" y="644.3" width="10" height="6.5"/>
<rect x="840.0" y="641.3" width="10" height="6.5"/>
<rect x="866.0" y="637.8" width="10" height="6.5"/>
<rect x="891.0" y="634.8" width="10" height="6.5"/>
<rect x="916.0" y="634.8" width="10" height="6.5"/>
<rect x="942.5" y="628.8" width="10" height="6.5"/>
<rect x="961.0" y="641.3" width="10" height="6.5"/>
<rect x="986.0" y="635.8" width="10" height="6.5"/>
<rect x="1012.5" y="637.8" width="10" height="6.5"/>
<rect x="1039.0" y="637.8" width="10" height="6.5"/>
<rect x="1064.0" y="637.8" width="10" height="6.5"/>
<rect x="1089.0" y="637.8" width="10" height="6.5"/>
<rect x="1117.5" y="634.8" width="10" height="6.5"/>
<rect x="1144.0" y="637.8" width="10" height="6.5"/>
<rect x="1169.0" y="634.8" width="10" height="6.5"/>
<rect x="1191.0" y="639.3" width="10" height="6.5"/>
<rect x="1212.5" y="651.8" width="10" height="6.5"/>
<rect x="1236.0" y="637.8" width="10" height="6.5"/>
<rect x="1261.0" y="634.8" width="10" height="6.5"/>
<rect x="1284.0" y="637.8" width="10" height="6.5"/>
<rect x="1310.0" y="637.8" width="10" height="6.5"/>
<rect x="1335.0" y="637.8" width="10" height="6.5"/>
<rect x="1361.0" y="637.8" width="10" height="6.5"/>
<rect x="1386.0" y="637.8" width="10" height="6.5"/>
<rect x="1411.0" y="637.8" width="10" height="6.5"/>
<rect x="1437.5" y="637.8" width="10" height="6.5"/>
<rect x="1462.5" y="637.8" width="10" height="6.5"/>
<rect x="1489.0" y="637.8" width="10" height="6.5"/>
<rect x="1514.0" y="637.8" width="10" height="6.5"/>
<rect x="1539.0" y="637.8" width="10" height="6.5"/>
<rect x="1565.0" y="637.8" width="10" height="6.5"/>
<rect x="1590.0" y="637.8" width="10" height="6.5"/>
<rect x="1615.0" y="637.8" width="10" height="6.5"/>
<rect x="1641.0" y="634.8" width="10" height="6.5"/>
<rect x="1664.0" y="631.3" width="10" height="6.5"/>
<rect x="1687.5" y="634.8" width="10" height="6.5"/>
<rect x="1711.0" y="647.8" width="10" height="6.5"/>
<rect x="1734.0" y="634.8" width="10" height="6.5"/>
<rect x="1752.5" y="639.3" width="10" height="6.5"/>
<rect x="1775.0" y="647.8" width="10" height="6.5"/>
<rect x="1799.0" y="634.8" width="10" height="6.5"/>
<rect x="1822.5" y="634.8" width="10" height="6.5"/>
<rect x="1849.0" y="637.8" width="10" height="6.5"/>
<rect x="1874.0" y="636.8" width="10" height="6.5"/>
<rect x="1900.0" y="644.3" width="10" height="6.5"/>
<rect x="1925.0" y="644.3" width="10" height="6.5"/>
<rect x="1951.0" y="644.3" width="10" height="6.5"/>
<rect x="1972.5" y="647.8" width="10" height="6.5"/>
<rect x="1999.0" y="644.3" width="10" height="6.5"/>
<rect x="2024.0" y="644.3" width="10" height="6.5"/>
<rect x="2050.0" y="644.3" width="10" height="6.5"/>
<rect x="2072.5" y="641.3" width="10" height="6.5"/>
<rect x="2095.0" y="644.3" width="10" height="6.5"/>
<rect x="2120.0" y="647.8" width="10" height="6.5"/>
<rect x="2142.5" y="641.3" width="10" height="6.5"/>
<rect x="2167.5" y="631.3" width="10" height="6.5"/>
<rect x="2194.0" y="631.3" width="10" height="6.5"/>
<rect x="2219.0" y="634.8" width="10" height="6.5"/>
<rect x="2241.0" y="628.8" width="10" height="6.5"/>
<rect x="2267.5" y="634.8" width="10" height="6.5"/>
<rect x="2290.0" y="644.3" width="10" height="6.5"/>
</g>
<g stroke="#000" stroke-width="3.1" fill="none" stroke-linecap="square">
<rect x="286.4" y="138.6" width="2026.0" height="1130.0"/>
<line x1="265.4" y1="1268.6" x2="286.4" y2="1268.6"/>
<line x1="265.4" y1="1042.6" x2="286.4" y2="1042.6"/>
<line x1="265.4" y1="816.5999999999999" x2="286.4" y2="816.5999999999999"/>
<line x1="265.4" y1="590.5999999999999" x2="286.4" y2="590.5999999999999"/>
<line x1="265.4" y1="364.5999999999999" x2="286.4" y2="364.5999999999999"/>
<line x1="265.4" y1="138.5999999999999" x2="286.4" y2="138.5999999999999"/>
<line x1="286.4" y1="1268.6" x2="286.4" y2="1289.6"/>
<line x1="455.2" y1="1268.6" x2="455.2" y2="1289.6"/>
<line x1="624.1" y1="1268.6" x2="624.1" y2="1289.6"/>
<line x1="792.9" y1="1268.6" x2="792.9" y2="1289.6"/>
<line x1="961.7" y1="1268.6" x2="961.7" y2="1289.6"/>
<line x1="1130.6" y1="1268.6" x2="1130.6" y2="1289.6"/>
<line x1="1299.4" y1="1268.6" x2="1299.4" y2="1289.6"/>
<line x1="1468.2" y1="1268.6" x2="1468.2" y2="1289.6"/>
<line x1="1637.1" y1="1268.6" x2="1637.1" y2="1289.6"/>
<line x1="1805.9" y1="1268.6" x2="1805.9" y2="1289.6"/>
<line x1="1974.7" y1="1268.6" x2="1974.7" y2="1289.6"/>
<line x1="2143.6" y1="1268.6" x2="2143.6" y2="1289.6"/>
<line x1="2312.4" y1="1268.6" x2="2312.4" y2="1289.6"/>
</g>
<g font-size="53" text-anchor="middle">
<text x="285.4" y="1344" textLength="161" lengthAdjust="spacingAndGlyphs">01/16Z</text>
<text x="623.1" y="1344" textLength="161" lengthAdjust="spacingAndGlyphs">01/20Z</text>
<text x="960.7" y="1344" textLength="161" lengthAdjust="spacingAndGlyphs">02/00Z</text>
<text x="1298.4" y="1344" textLength="161" lengthAdjust="spacingAndGlyphs">02/04Z</text>
<text x="1636.1" y="1344" textLength="161" lengthAdjust="spacingAndGlyphs">02/08Z</text>
<text x="1973.7" y="1344" textLength="161" lengthAdjust="spacingAndGlyphs">02/12Z</text>
<text x="2311.4" y="1344" textLength="161" lengthAdjust="spacingAndGlyphs">02/16Z</text>
</g>
<g font-size="53" text-anchor="end">
<text x="246" y="1291.1" textLength="28.2" lengthAdjust="spacingAndGlyphs">0</text>
<text x="246" y="1065.1" textLength="112.8" lengthAdjust="spacingAndGlyphs">2000</text>
<text x="246" y="839.1" textLength="112.8" lengthAdjust="spacingAndGlyphs">4000</text>
<text x="246" y="613.1" textLength="112.8" lengthAdjust="spacingAndGlyphs">6000</text>
<text x="246" y="387.1" textLength="112.8" lengthAdjust="spacingAndGlyphs">8000</text>
<text x="246" y="161.1" textLength="141.0" lengthAdjust="spacingAndGlyphs">10000</text>
</g>
<text transform="translate(79.5,704) rotate(-90)" font-size="52" text-anchor="middle" textLength="249" lengthAdjust="spacing">Height (m)</text>
<g stroke="#000" stroke-width="3.1" fill="none" stroke-linecap="square">
<rect x="286.5" y="1492.0" width="2027.0" height="491.5"/>
<line x1="266.5" y1="1970.9" x2="286.5" y2="1970.9"/>
<line x1="266.5" y1="1856.2" x2="286.5" y2="1856.2"/>
<line x1="266.5" y1="1741.2" x2="286.5" y2="1741.2"/>
<line x1="266.5" y1="1626.4" x2="286.5" y2="1626.4"/>
<line x1="266.5" y1="1508.0" x2="286.5" y2="1508.0"/>
<line x1="292.3" y1="1983.5" x2="292.3" y2="2006.5"/>
<line x1="460.4" y1="1983.5" x2="460.4" y2="2006.5"/>
<line x1="628.6" y1="1983.5" x2="628.6" y2="2006.5"/>
<line x1="796.7" y1="1983.5" x2="796.7" y2="2006.5"/>
<line x1="964.8" y1="1983.5" x2="964.8" y2="2006.5"/>
<line x1="1133.0" y1="1983.5" x2="1133.0" y2="2006.5"/>
<line x1="1301.1" y1="1983.5" x2="1301.1" y2="2006.5"/>
<line x1="1469.2" y1="1983.5" x2="1469.2" y2="2006.5"/>
<line x1="1637.3" y1="1983.5" x2="1637.3" y2="2006.5"/>
<line x1="1805.5" y1="1983.5" x2="1805.5" y2="2006.5"/>
<line x1="1973.6" y1="1983.5" x2="1973.6" y2="2006.5"/>
<line x1="2141.7" y1="1983.5" x2="2141.7" y2="2006.5"/>
<line x1="2309.9" y1="1983.5" x2="2309.9" y2="2006.5"/>
</g>
<g stroke="#000" stroke-width="3" stroke-dasharray="5 3.7" fill="none" shape-rendering="crispEdges">
<line x1="286.5" y1="1856.2" x2="2313.5" y2="1856.2"/>
<line x1="286.5" y1="1741.2" x2="2313.5" y2="1741.2"/>
<line x1="286.5" y1="1626.4" x2="2313.5" y2="1626.4"/>
<line x1="286.5" y1="1508.0" x2="2313.5" y2="1508.0"/>
</g>
<g fill="#000">
<rect x="328.3" y="1965.5" width="10" height="10.5"/>
<rect x="412.4" y="1965.5" width="10" height="10.5"/>
<rect x="496.5" y="1965.5" width="10" height="10.5"/>
<rect x="580.5" y="1965.5" width="10" height="10.5"/>
<rect x="664.6" y="1965.5" width="10" height="10.5"/>
<rect x="747.7" y="1949.7" width="12" height="26.3" rx="3.5"/>
<rect x="831.7" y="1908.4" width="12" height="67.6" rx="3.5"/>
<rect x="915.8" y="1939.9" width="12" height="36.1" rx="3.5"/>
<rect x="999.9" y="1851.5" width="12" height="124.5" rx="3.5"/>
<rect x="1083.9" y="1753.4" width="12" height="222.6" rx="3.5"/>
<rect x="1168.0" y="1927.3" width="12" height="48.7" rx="3.5"/>
<rect x="1252.0" y="1845.2" width="12" height="130.8" rx="3.5"/>
<rect x="1336.1" y="1930.2" width="12" height="45.8" rx="3.5"/>
<rect x="1420.2" y="1933.6" width="12" height="42.4" rx="3.5"/>
<rect x="1504.2" y="1927.3" width="12" height="48.7" rx="3.5"/>
<rect x="1588.3" y="1939.9" width="12" height="36.1" rx="3.5"/>
<rect x="1673.4" y="1965.5" width="10" height="10.5"/>
<rect x="1756.4" y="1961.2" width="12" height="14.8" rx="3.5"/>
<rect x="1840.5" y="1953.1" width="12" height="22.9" rx="3.5"/>
<rect x="1925.6" y="1965.5" width="10" height="10.5"/>
<rect x="2009.6" y="1965.5" width="10" height="10.5"/>
<rect x="2093.7" y="1965.5" width="10" height="10.5"/>
<rect x="2176.8" y="1956.0" width="12" height="20.0" rx="3.5"/>
<rect x="2260.8" y="1961.2" width="12" height="14.8" rx="3.5"/>
</g>
<g font-size="53" text-anchor="middle">
<text x="291.0" y="2058.5" textLength="161" lengthAdjust="spacingAndGlyphs">01/16Z</text>
<text x="627.3" y="2058.5" textLength="161" lengthAdjust="spacingAndGlyphs">01/20Z</text>
<text x="963.5" y="2058.5" textLength="161" lengthAdjust="spacingAndGlyphs">02/00Z</text>
<text x="1299.8" y="2058.5" textLength="161" lengthAdjust="spacingAndGlyphs">02/04Z</text>
<text x="1636.0" y="2058.5" textLength="161" lengthAdjust="spacingAndGlyphs">02/08Z</text>
<text x="1972.3" y="2058.5" textLength="161" lengthAdjust="spacingAndGlyphs">02/12Z</text>
<text x="2308.6" y="2058.5" textLength="161" lengthAdjust="spacingAndGlyphs">02/16Z</text>
</g>
<g font-size="45" text-anchor="end">
<text x="246.5" y="1991.4" textLength="21.8" lengthAdjust="spacingAndGlyphs">0</text>
<text x="246.5" y="1876.7" textLength="43.6" lengthAdjust="spacingAndGlyphs">20</text>
<text x="246.5" y="1761.7" textLength="43.6" lengthAdjust="spacingAndGlyphs">40</text>
<text x="246.5" y="1646.9" textLength="43.6" lengthAdjust="spacingAndGlyphs">60</text>
<text x="246.5" y="1528.5" textLength="43.6" lengthAdjust="spacingAndGlyphs">80</text>
</g>
<text transform="translate(80.5,1737.5) rotate(-90)" font-size="52" text-anchor="middle" textLength="471" lengthAdjust="spacing">Hourly rainfall (mm)</text>
<g shape-rendering="crispEdges">
<rect x="82.5" y="2121.0" width="250.9" height="95.5" fill="#FFFFD9"/>
<rect x="332.9" y="2121.0" width="252.6" height="95.5" fill="#E8F8AF"/>
<rect x="585.0" y="2121.0" width="255.7" height="95.5" fill="#B9EAB3"/>
<rect x="840.2" y="2121.0" width="252.6" height="95.5" fill="#46CEBC"/>
<rect x="1092.3" y="2121.0" width="252.5" height="95.5" fill="#00B7C6"/>
<rect x="1344.3" y="2121.0" width="252.6" height="95.5" fill="#0093C5"/>
<rect x="1596.4" y="2121.0" width="253.2" height="95.5" fill="#0060AC"/>
<rect x="1849.1" y="2121.0" width="255.8" height="95.5" fill="#183096"/>
<rect x="2104.4" y="2121.0" width="255.1" height="95.5" fill="#00185A"/>
</g>
<rect x="82.5" y="2121.0" width="2276.5" height="95.5" fill="none" stroke="#000" stroke-width="3.1"/>
<g font-size="53" text-anchor="middle">
<text x="79.5" y="2288">0</text>
<text x="329.9" y="2288">1</text>
<text x="582.0" y="2288">2</text>
<text x="837.2" y="2288">3</text>
<text x="1089.3" y="2288">4</text>
<text x="1341.3" y="2288">5</text>
<text x="1593.4" y="2288">6</text>
<text x="1846.1" y="2288">7</text>
<text x="2101.4" y="2288">8</text>
<text x="2356.0" y="2288">9</text>
</g>
<text x="987" y="2423" font-size="53" textLength="158" lengthAdjust="spacingAndGlyphs">CLWC</text>
<text x="1157" y="2423" font-size="53" textLength="54" lengthAdjust="spacingAndGlyphs">kg</text>
<text x="1221" y="2431" font-size="78">/</text>
<text x="1242" y="2423" font-size="53">m</text>
<text x="1287" y="2393" font-size="38">3</text>
<text x="1323" y="2424" font-size="72" font-family="'Liberation Serif', serif">(</text>
<text x="1346" y="2423" font-size="53" textLength="58" lengthAdjust="spacingAndGlyphs">10</text>
<text x="1403" y="2393" font-size="38">−5</text>
<text x="1450" y="2424" font-size="72" font-family="'Liberation Serif', serif">)</text>
</svg>
</body></html>
